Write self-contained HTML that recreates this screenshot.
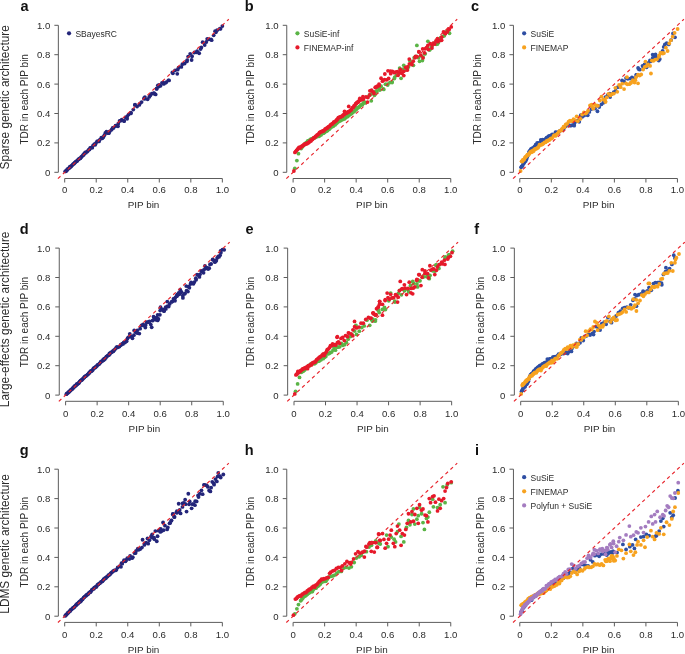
<!DOCTYPE html>
<html><head><meta charset="utf-8"><style>
html,body{margin:0;padding:0;background:#fff;}
svg{display:block;font-family:"Liberation Sans", sans-serif;will-change:transform;}
</style></head><body>
<svg width="685" height="654" viewBox="0 0 685 654">
<rect width="685" height="654" fill="#fff"/>
<text x="28.6" y="11" font-size="14.5" font-weight="bold" text-anchor="end" fill="#111">a</text>
<path d="M54.35 25.3H58.35V172.3H54.35M54.35 142.9H58.35M54.35 113.5H58.35M54.35 84.1H58.35M54.35 54.7H58.35M64.7 182.5V178.5H222.35V182.5M96.23 178.5V182.5M127.76 178.5V182.5M159.29 178.5V182.5M190.82 178.5V182.5" stroke="#5c5c5c" stroke-width="1" fill="none"/>
<text x="50.25" y="175.8" font-size="9.6" text-anchor="end" fill="#2b2b2b">0</text>
<text x="64.7" y="193.1" font-size="9.6" text-anchor="middle" fill="#2b2b2b">0</text>
<text x="50.25" y="146.4" font-size="9.6" text-anchor="end" fill="#2b2b2b">0.2</text>
<text x="96.23" y="193.1" font-size="9.6" text-anchor="middle" fill="#2b2b2b">0.2</text>
<text x="50.25" y="117" font-size="9.6" text-anchor="end" fill="#2b2b2b">0.4</text>
<text x="127.76" y="193.1" font-size="9.6" text-anchor="middle" fill="#2b2b2b">0.4</text>
<text x="50.25" y="87.6" font-size="9.6" text-anchor="end" fill="#2b2b2b">0.6</text>
<text x="159.29" y="193.1" font-size="9.6" text-anchor="middle" fill="#2b2b2b">0.6</text>
<text x="50.25" y="58.2" font-size="9.6" text-anchor="end" fill="#2b2b2b">0.8</text>
<text x="190.82" y="193.1" font-size="9.6" text-anchor="middle" fill="#2b2b2b">0.8</text>
<text x="50.25" y="28.8" font-size="9.6" text-anchor="end" fill="#2b2b2b">1.0</text>
<text x="222.35" y="193.1" font-size="9.6" text-anchor="middle" fill="#2b2b2b">1.0</text>
<text x="143.53" y="208" font-size="9.9" text-anchor="middle" fill="#2b2b2b">PIP bin</text>
<text transform="translate(27.7,99.3) rotate(-90)" x="0" y="0" font-size="10" text-anchor="middle" fill="#2b2b2b">TDR in each PIP bin</text>
<text transform="translate(9.1,97.3) rotate(-90)" x="0" y="0" font-size="11.85" text-anchor="middle" fill="#2b2b2b">Sparse genetic architecture</text>
<circle cx="65.16" cy="171.41" r="1.9" fill="#23257a"/><circle cx="65.78" cy="171.27" r="1.9" fill="#23257a"/><circle cx="66.46" cy="170.74" r="1.9" fill="#23257a"/><circle cx="67.17" cy="169.9" r="1.9" fill="#23257a"/><circle cx="67.43" cy="169.09" r="1.9" fill="#23257a"/><circle cx="68.18" cy="168.81" r="1.9" fill="#23257a"/><circle cx="68.94" cy="168.11" r="1.9" fill="#23257a"/><circle cx="69.53" cy="167.75" r="1.9" fill="#23257a"/><circle cx="69.91" cy="166.75" r="1.9" fill="#23257a"/><circle cx="70.45" cy="166.74" r="1.9" fill="#23257a"/><circle cx="71.08" cy="166.5" r="1.9" fill="#23257a"/><circle cx="71.89" cy="165.53" r="1.9" fill="#23257a"/><circle cx="72.47" cy="164.84" r="1.9" fill="#23257a"/><circle cx="73.13" cy="164.14" r="1.9" fill="#23257a"/><circle cx="73.91" cy="163.72" r="1.9" fill="#23257a"/><circle cx="74.49" cy="162.9" r="1.9" fill="#23257a"/><circle cx="75.17" cy="162.48" r="1.9" fill="#23257a"/><circle cx="75.78" cy="161.55" r="1.9" fill="#23257a"/><circle cx="76.88" cy="161.33" r="1.9" fill="#23257a"/><circle cx="77.29" cy="160.42" r="1.9" fill="#23257a"/><circle cx="78.4" cy="159.5" r="1.9" fill="#23257a"/><circle cx="78.83" cy="159.03" r="1.9" fill="#23257a"/><circle cx="79.76" cy="158.38" r="1.9" fill="#23257a"/><circle cx="80.38" cy="158.23" r="1.9" fill="#23257a"/><circle cx="81.35" cy="156.91" r="1.9" fill="#23257a"/><circle cx="82.02" cy="156.3" r="1.9" fill="#23257a"/><circle cx="82.95" cy="155.07" r="1.9" fill="#23257a"/><circle cx="83.61" cy="154.91" r="1.9" fill="#23257a"/><circle cx="84.17" cy="153.77" r="1.9" fill="#23257a"/><circle cx="85.17" cy="152.35" r="1.9" fill="#23257a"/><circle cx="85.9" cy="152.81" r="1.9" fill="#23257a"/><circle cx="86.99" cy="151.63" r="1.9" fill="#23257a"/><circle cx="87.71" cy="151.09" r="1.9" fill="#23257a"/><circle cx="88.77" cy="149.64" r="1.9" fill="#23257a"/><circle cx="89.54" cy="149.39" r="1.9" fill="#23257a"/><circle cx="90.21" cy="147.85" r="1.9" fill="#23257a"/><circle cx="91.12" cy="147.68" r="1.9" fill="#23257a"/><circle cx="92.31" cy="147.7" r="1.9" fill="#23257a"/><circle cx="93.15" cy="145.31" r="1.9" fill="#23257a"/><circle cx="94.38" cy="144.19" r="1.9" fill="#23257a"/><circle cx="95.25" cy="144.73" r="1.9" fill="#23257a"/><circle cx="95.97" cy="143.12" r="1.9" fill="#23257a"/><circle cx="97.09" cy="141.33" r="1.9" fill="#23257a"/><circle cx="98.07" cy="141.25" r="1.9" fill="#23257a"/><circle cx="99" cy="141.39" r="1.9" fill="#23257a"/><circle cx="99.91" cy="139.58" r="1.9" fill="#23257a"/><circle cx="101.33" cy="137.72" r="1.9" fill="#23257a"/><circle cx="102.37" cy="138.32" r="1.9" fill="#23257a"/><circle cx="103.48" cy="137" r="1.9" fill="#23257a"/><circle cx="104.39" cy="135.19" r="1.9" fill="#23257a"/><circle cx="105.36" cy="132.92" r="1.9" fill="#23257a"/><circle cx="106.69" cy="132.82" r="1.9" fill="#23257a"/><circle cx="108.26" cy="133.13" r="1.9" fill="#23257a"/><circle cx="109.76" cy="131.28" r="1.9" fill="#23257a"/><circle cx="111.61" cy="129.7" r="1.9" fill="#23257a"/><circle cx="113.54" cy="127.9" r="1.9" fill="#23257a"/><circle cx="115.52" cy="126.02" r="1.9" fill="#23257a"/><circle cx="118.23" cy="123.7" r="1.9" fill="#23257a"/><circle cx="121.08" cy="120.58" r="1.9" fill="#23257a"/><circle cx="124.1" cy="121.04" r="1.9" fill="#23257a"/><circle cx="127.22" cy="116.45" r="1.9" fill="#23257a"/><circle cx="130.91" cy="113.43" r="1.9" fill="#23257a"/><circle cx="135.08" cy="104.75" r="1.9" fill="#23257a"/><circle cx="139.89" cy="103.53" r="1.9" fill="#23257a"/><circle cx="144.55" cy="98.97" r="1.9" fill="#23257a"/><circle cx="149.26" cy="96.91" r="1.9" fill="#23257a"/><circle cx="154.03" cy="93.25" r="1.9" fill="#23257a"/><circle cx="158.82" cy="86.53" r="1.9" fill="#23257a"/><circle cx="163.75" cy="83.92" r="1.9" fill="#23257a"/><circle cx="168.37" cy="80.35" r="1.9" fill="#23257a"/><circle cx="172.89" cy="73.37" r="1.9" fill="#23257a"/><circle cx="177.69" cy="69.66" r="1.9" fill="#23257a"/><circle cx="182.39" cy="64.13" r="1.9" fill="#23257a"/><circle cx="187.16" cy="60.06" r="1.9" fill="#23257a"/><circle cx="192.08" cy="56.24" r="1.9" fill="#23257a"/><circle cx="196.53" cy="52.24" r="1.9" fill="#23257a"/><circle cx="201.32" cy="47.38" r="1.9" fill="#23257a"/><circle cx="206.31" cy="41.98" r="1.9" fill="#23257a"/><circle cx="211.03" cy="39.29" r="1.9" fill="#23257a"/><circle cx="215.9" cy="32.24" r="1.9" fill="#23257a"/><circle cx="220.55" cy="28.84" r="1.9" fill="#23257a"/><circle cx="106.48" cy="131.73" r="1.9" fill="#23257a"/><circle cx="108.84" cy="133.2" r="1.9" fill="#23257a"/><circle cx="112.63" cy="127.91" r="1.9" fill="#23257a"/><circle cx="115.62" cy="125.7" r="1.9" fill="#23257a"/><circle cx="117.99" cy="126.29" r="1.9" fill="#23257a"/><circle cx="119.56" cy="121" r="1.9" fill="#23257a"/><circle cx="121.77" cy="119.53" r="1.9" fill="#23257a"/><circle cx="124.13" cy="121" r="1.9" fill="#23257a"/><circle cx="125.55" cy="117.32" r="1.9" fill="#23257a"/><circle cx="127.13" cy="118.79" r="1.9" fill="#23257a"/><circle cx="128.55" cy="114.53" r="1.9" fill="#23257a"/><circle cx="130.91" cy="112.62" r="1.9" fill="#23257a"/><circle cx="133.28" cy="109.53" r="1.9" fill="#23257a"/><circle cx="134.85" cy="104.97" r="1.9" fill="#23257a"/><circle cx="137.06" cy="106.59" r="1.9" fill="#23257a"/><circle cx="139.27" cy="104.97" r="1.9" fill="#23257a"/><circle cx="141.63" cy="102.03" r="1.9" fill="#23257a"/><circle cx="144" cy="98.21" r="1.9" fill="#23257a"/><circle cx="144.94" cy="97.04" r="1.9" fill="#23257a"/><circle cx="147.62" cy="99.24" r="1.9" fill="#23257a"/><circle cx="150.3" cy="95.42" r="1.9" fill="#23257a"/><circle cx="151.72" cy="93.66" r="1.9" fill="#23257a"/><circle cx="153.46" cy="93.36" r="1.9" fill="#23257a"/><circle cx="155.66" cy="94.39" r="1.9" fill="#23257a"/><circle cx="156.77" cy="88.51" r="1.9" fill="#23257a"/><circle cx="157.87" cy="85.28" r="1.9" fill="#23257a"/><circle cx="160.55" cy="85.86" r="1.9" fill="#23257a"/><circle cx="163.23" cy="82.63" r="1.9" fill="#23257a"/><circle cx="166.38" cy="82.04" r="1.9" fill="#23257a"/><circle cx="169.06" cy="80.43" r="1.9" fill="#23257a"/><circle cx="172.37" cy="72.49" r="1.9" fill="#23257a"/><circle cx="175.06" cy="70.28" r="1.9" fill="#23257a"/><circle cx="177.26" cy="73.81" r="1.9" fill="#23257a"/><circle cx="178.52" cy="67.64" r="1.9" fill="#23257a"/><circle cx="181.36" cy="66.9" r="1.9" fill="#23257a"/><circle cx="184.67" cy="63.52" r="1.9" fill="#23257a"/><circle cx="186.88" cy="61.46" r="1.9" fill="#23257a"/><circle cx="188.14" cy="56.61" r="1.9" fill="#23257a"/><circle cx="190.19" cy="53.82" r="1.9" fill="#23257a"/><circle cx="191.61" cy="59.99" r="1.9" fill="#23257a"/><circle cx="194.45" cy="52.5" r="1.9" fill="#23257a"/><circle cx="197.13" cy="51.17" r="1.9" fill="#23257a"/><circle cx="199.18" cy="53.23" r="1.9" fill="#23257a"/><circle cx="200.59" cy="49.11" r="1.9" fill="#23257a"/><circle cx="202.64" cy="42.21" r="1.9" fill="#23257a"/><circle cx="204.69" cy="45" r="1.9" fill="#23257a"/><circle cx="207.22" cy="38.82" r="1.9" fill="#23257a"/><circle cx="208.79" cy="39.41" r="1.9" fill="#23257a"/><circle cx="211.63" cy="40.15" r="1.9" fill="#23257a"/><circle cx="213.68" cy="35.3" r="1.9" fill="#23257a"/><circle cx="215.1" cy="31.18" r="1.9" fill="#23257a"/><circle cx="217.15" cy="30.15" r="1.9" fill="#23257a"/><circle cx="219.83" cy="28.68" r="1.9" fill="#23257a"/><circle cx="222.35" cy="26.04" r="1.9" fill="#23257a"/><circle cx="161.97" cy="82.78" r="1.9" fill="#23257a"/><circle cx="165.6" cy="82.78" r="1.9" fill="#23257a"/><circle cx="154.4" cy="93.66" r="1.9" fill="#23257a"/><circle cx="156.61" cy="88.95" r="1.9" fill="#23257a"/><circle cx="159.29" cy="84.84" r="1.9" fill="#23257a"/>
<line x1="57.92" y1="178.62" x2="228.81" y2="19.27" stroke="#e8242c" stroke-width="1.15" stroke-dasharray="3.5 3.3"/>
<circle cx="69.05" cy="33.3" r="2.1" fill="#23257a"/>
<text x="75.45" y="36.8" font-size="8.5" fill="#2b2b2b">SBayesRC</text>
<text x="253.6" y="11" font-size="14.5" font-weight="bold" text-anchor="end" fill="#111">b</text>
<path d="M282.75 25.3H286.75V172.3H282.75M282.75 142.9H286.75M282.75 113.5H286.75M282.75 84.1H286.75M282.75 54.7H286.75M293.1 182.5V178.5H450.75V182.5M324.63 178.5V182.5M356.16 178.5V182.5M387.69 178.5V182.5M419.22 178.5V182.5" stroke="#5c5c5c" stroke-width="1" fill="none"/>
<text x="278.65" y="175.8" font-size="9.6" text-anchor="end" fill="#2b2b2b">0</text>
<text x="293.1" y="193.1" font-size="9.6" text-anchor="middle" fill="#2b2b2b">0</text>
<text x="278.65" y="146.4" font-size="9.6" text-anchor="end" fill="#2b2b2b">0.2</text>
<text x="324.63" y="193.1" font-size="9.6" text-anchor="middle" fill="#2b2b2b">0.2</text>
<text x="278.65" y="117" font-size="9.6" text-anchor="end" fill="#2b2b2b">0.4</text>
<text x="356.16" y="193.1" font-size="9.6" text-anchor="middle" fill="#2b2b2b">0.4</text>
<text x="278.65" y="87.6" font-size="9.6" text-anchor="end" fill="#2b2b2b">0.6</text>
<text x="387.69" y="193.1" font-size="9.6" text-anchor="middle" fill="#2b2b2b">0.6</text>
<text x="278.65" y="58.2" font-size="9.6" text-anchor="end" fill="#2b2b2b">0.8</text>
<text x="419.22" y="193.1" font-size="9.6" text-anchor="middle" fill="#2b2b2b">0.8</text>
<text x="278.65" y="28.8" font-size="9.6" text-anchor="end" fill="#2b2b2b">1.0</text>
<text x="450.75" y="193.1" font-size="9.6" text-anchor="middle" fill="#2b2b2b">1.0</text>
<text x="371.93" y="208" font-size="9.9" text-anchor="middle" fill="#2b2b2b">PIP bin</text>
<text transform="translate(253.6,99.3) rotate(-90)" x="0" y="0" font-size="10" text-anchor="middle" fill="#2b2b2b">TDR in each PIP bin</text>
<circle cx="301.13" cy="148.55" r="1.9" fill="#5ab446"/><circle cx="301.8" cy="147.4" r="1.9" fill="#5ab446"/><circle cx="302.98" cy="146.12" r="1.9" fill="#5ab446"/><circle cx="303.76" cy="145.23" r="1.9" fill="#5ab446"/><circle cx="304.8" cy="144.09" r="1.9" fill="#5ab446"/><circle cx="305.6" cy="143.14" r="1.9" fill="#5ab446"/><circle cx="306.64" cy="142.39" r="1.9" fill="#5ab446"/><circle cx="307.76" cy="140.84" r="1.9" fill="#5ab446"/><circle cx="308.69" cy="140.98" r="1.9" fill="#5ab446"/><circle cx="309.42" cy="140.29" r="1.9" fill="#5ab446"/><circle cx="310.3" cy="139.42" r="1.9" fill="#5ab446"/><circle cx="311.33" cy="139.22" r="1.9" fill="#5ab446"/><circle cx="312.3" cy="138.54" r="1.9" fill="#5ab446"/><circle cx="313.3" cy="138.58" r="1.9" fill="#5ab446"/><circle cx="314.14" cy="137.67" r="1.9" fill="#5ab446"/><circle cx="315.06" cy="137.49" r="1.9" fill="#5ab446"/><circle cx="316.12" cy="136.68" r="1.9" fill="#5ab446"/><circle cx="316.96" cy="136.72" r="1.9" fill="#5ab446"/><circle cx="318.13" cy="136.18" r="1.9" fill="#5ab446"/><circle cx="319.08" cy="136.37" r="1.9" fill="#5ab446"/><circle cx="319.98" cy="135.26" r="1.9" fill="#5ab446"/><circle cx="321" cy="134.97" r="1.9" fill="#5ab446"/><circle cx="321.94" cy="133.82" r="1.9" fill="#5ab446"/><circle cx="322.81" cy="133.04" r="1.9" fill="#5ab446"/><circle cx="323.67" cy="133.17" r="1.9" fill="#5ab446"/><circle cx="324.76" cy="132.27" r="1.9" fill="#5ab446"/><circle cx="325.58" cy="131.39" r="1.9" fill="#5ab446"/><circle cx="326.64" cy="131.09" r="1.9" fill="#5ab446"/><circle cx="327.59" cy="130.54" r="1.9" fill="#5ab446"/><circle cx="328.55" cy="129.4" r="1.9" fill="#5ab446"/><circle cx="329.43" cy="129.03" r="1.9" fill="#5ab446"/><circle cx="330.25" cy="128.12" r="1.9" fill="#5ab446"/><circle cx="331.31" cy="127.14" r="1.9" fill="#5ab446"/><circle cx="332.12" cy="126.18" r="1.9" fill="#5ab446"/><circle cx="333.27" cy="126.26" r="1.9" fill="#5ab446"/><circle cx="334.15" cy="124.57" r="1.9" fill="#5ab446"/><circle cx="335.04" cy="124.95" r="1.9" fill="#5ab446"/><circle cx="336.01" cy="123.84" r="1.9" fill="#5ab446"/><circle cx="336.87" cy="123" r="1.9" fill="#5ab446"/><circle cx="338.01" cy="122.06" r="1.9" fill="#5ab446"/><circle cx="338.86" cy="121.22" r="1.9" fill="#5ab446"/><circle cx="339.84" cy="120.88" r="1.9" fill="#5ab446"/><circle cx="340.84" cy="120.4" r="1.9" fill="#5ab446"/><circle cx="341.52" cy="119.57" r="1.9" fill="#5ab446"/><circle cx="342.65" cy="119.5" r="1.9" fill="#5ab446"/><circle cx="343.67" cy="118.71" r="1.9" fill="#5ab446"/><circle cx="344.37" cy="118.94" r="1.9" fill="#5ab446"/><circle cx="345.36" cy="117.88" r="1.9" fill="#5ab446"/><circle cx="346.29" cy="116.91" r="1.9" fill="#5ab446"/><circle cx="347.4" cy="116.69" r="1.9" fill="#5ab446"/><circle cx="348.13" cy="115.93" r="1.9" fill="#5ab446"/><circle cx="349.28" cy="115.02" r="1.9" fill="#5ab446"/><circle cx="350.04" cy="114.43" r="1.9" fill="#5ab446"/><circle cx="351.19" cy="113.85" r="1.9" fill="#5ab446"/><circle cx="351.91" cy="113.19" r="1.9" fill="#5ab446"/><circle cx="352.9" cy="111.93" r="1.9" fill="#5ab446"/><circle cx="353.85" cy="111.66" r="1.9" fill="#5ab446"/><circle cx="354.75" cy="110.92" r="1.9" fill="#5ab446"/><circle cx="356" cy="109.7" r="1.9" fill="#5ab446"/><circle cx="356.74" cy="108.77" r="1.9" fill="#5ab446"/><circle cx="357.77" cy="107.94" r="1.9" fill="#5ab446"/><circle cx="358.63" cy="107.21" r="1.9" fill="#5ab446"/><circle cx="359.48" cy="106.75" r="1.9" fill="#5ab446"/><circle cx="360.65" cy="105.33" r="1.9" fill="#5ab446"/><circle cx="361.65" cy="104.67" r="1.9" fill="#5ab446"/><circle cx="362.53" cy="104.49" r="1.9" fill="#5ab446"/><circle cx="363.4" cy="103.05" r="1.9" fill="#5ab446"/><circle cx="364.3" cy="101.9" r="1.9" fill="#5ab446"/><circle cx="365.18" cy="102.9" r="1.9" fill="#5ab446"/><circle cx="367.83" cy="97.07" r="1.9" fill="#5ab446"/><circle cx="370.03" cy="94.8" r="1.9" fill="#5ab446"/><circle cx="372.24" cy="93.29" r="1.9" fill="#5ab446"/><circle cx="374.45" cy="95.3" r="1.9" fill="#5ab446"/><circle cx="376.65" cy="90.95" r="1.9" fill="#5ab446"/><circle cx="378.86" cy="88.28" r="1.9" fill="#5ab446"/><circle cx="381.07" cy="86.24" r="1.9" fill="#5ab446"/><circle cx="383.28" cy="88.87" r="1.9" fill="#5ab446"/><circle cx="385.48" cy="84.19" r="1.9" fill="#5ab446"/><circle cx="387.69" cy="85.02" r="1.9" fill="#5ab446"/><circle cx="389.9" cy="82.61" r="1.9" fill="#5ab446"/><circle cx="392.1" cy="81.85" r="1.9" fill="#5ab446"/><circle cx="394.31" cy="78.5" r="1.9" fill="#5ab446"/><circle cx="396.52" cy="75.16" r="1.9" fill="#5ab446"/><circle cx="398.73" cy="73.02" r="1.9" fill="#5ab446"/><circle cx="400.93" cy="71.37" r="1.9" fill="#5ab446"/><circle cx="403.14" cy="69.27" r="1.9" fill="#5ab446"/><circle cx="405.35" cy="69.97" r="1.9" fill="#5ab446"/><circle cx="407.55" cy="68.8" r="1.9" fill="#5ab446"/><circle cx="409.76" cy="60.39" r="1.9" fill="#5ab446"/><circle cx="411.97" cy="62.35" r="1.9" fill="#5ab446"/><circle cx="414.18" cy="57.65" r="1.9" fill="#5ab446"/><circle cx="416.38" cy="56.4" r="1.9" fill="#5ab446"/><circle cx="418.59" cy="57.83" r="1.9" fill="#5ab446"/><circle cx="420.8" cy="55.78" r="1.9" fill="#5ab446"/><circle cx="423" cy="57.19" r="1.9" fill="#5ab446"/><circle cx="425.21" cy="53.83" r="1.9" fill="#5ab446"/><circle cx="427.42" cy="48.11" r="1.9" fill="#5ab446"/><circle cx="429.62" cy="50.06" r="1.9" fill="#5ab446"/><circle cx="431.83" cy="46.14" r="1.9" fill="#5ab446"/><circle cx="434.04" cy="43.11" r="1.9" fill="#5ab446"/><circle cx="436.25" cy="44.36" r="1.9" fill="#5ab446"/><circle cx="438.45" cy="42.45" r="1.9" fill="#5ab446"/><circle cx="440.66" cy="37.69" r="1.9" fill="#5ab446"/><circle cx="442.87" cy="36.35" r="1.9" fill="#5ab446"/><circle cx="445.07" cy="32.16" r="1.9" fill="#5ab446"/><circle cx="447.28" cy="31.35" r="1.9" fill="#5ab446"/><circle cx="449.49" cy="33.27" r="1.9" fill="#5ab446"/><circle cx="294.83" cy="168.33" r="1.9" fill="#5ab446"/><circle cx="296.88" cy="160.54" r="1.9" fill="#5ab446"/><circle cx="298.46" cy="153.63" r="1.9" fill="#5ab446"/><circle cx="355.21" cy="107.33" r="1.9" fill="#5ab446"/><circle cx="369.4" cy="95.13" r="1.9" fill="#5ab446"/><circle cx="371.29" cy="100.86" r="1.9" fill="#5ab446"/><circle cx="375.87" cy="91.6" r="1.9" fill="#5ab446"/><circle cx="374.13" cy="92.19" r="1.9" fill="#5ab446"/><circle cx="376.81" cy="92.04" r="1.9" fill="#5ab446"/><circle cx="383.75" cy="89.39" r="1.9" fill="#5ab446"/><circle cx="392.1" cy="82.48" r="1.9" fill="#5ab446"/><circle cx="394.78" cy="77.04" r="1.9" fill="#5ab446"/><circle cx="401.09" cy="78.37" r="1.9" fill="#5ab446"/><circle cx="399.67" cy="68.08" r="1.9" fill="#5ab446"/><circle cx="403.77" cy="65.28" r="1.9" fill="#5ab446"/><circle cx="408.5" cy="66.75" r="1.9" fill="#5ab446"/><circle cx="413.39" cy="65.28" r="1.9" fill="#5ab446"/><circle cx="416.86" cy="45.44" r="1.9" fill="#5ab446"/><circle cx="419.54" cy="61.32" r="1.9" fill="#5ab446"/><circle cx="422.37" cy="60.58" r="1.9" fill="#5ab446"/><circle cx="424.42" cy="53.67" r="1.9" fill="#5ab446"/><circle cx="427.89" cy="41.32" r="1.9" fill="#5ab446"/><circle cx="430.57" cy="48.82" r="1.9" fill="#5ab446"/><circle cx="437.51" cy="44.12" r="1.9" fill="#5ab446"/><circle cx="444.29" cy="35.74" r="1.9" fill="#5ab446"/><circle cx="447.12" cy="31.77" r="1.9" fill="#5ab446"/><circle cx="387.69" cy="84.1" r="1.9" fill="#5ab446"/><circle cx="379.81" cy="89.98" r="1.9" fill="#5ab446"/><circle cx="294.91" cy="152.43" r="1.9" fill="#e6192a"/><circle cx="295.81" cy="151.33" r="1.9" fill="#e6192a"/><circle cx="296.61" cy="150.3" r="1.9" fill="#e6192a"/><circle cx="297.46" cy="149.42" r="1.9" fill="#e6192a"/><circle cx="298.07" cy="148.67" r="1.9" fill="#e6192a"/><circle cx="298.92" cy="147.28" r="1.9" fill="#e6192a"/><circle cx="299.83" cy="148.14" r="1.9" fill="#e6192a"/><circle cx="300.4" cy="147.14" r="1.9" fill="#e6192a"/><circle cx="301.34" cy="146.44" r="1.9" fill="#e6192a"/><circle cx="302.16" cy="146.47" r="1.9" fill="#e6192a"/><circle cx="302.93" cy="145.29" r="1.9" fill="#e6192a"/><circle cx="303.69" cy="145.09" r="1.9" fill="#e6192a"/><circle cx="304.39" cy="144.25" r="1.9" fill="#e6192a"/><circle cx="305.23" cy="144.26" r="1.9" fill="#e6192a"/><circle cx="306.1" cy="143.56" r="1.9" fill="#e6192a"/><circle cx="306.95" cy="143.75" r="1.9" fill="#e6192a"/><circle cx="307.57" cy="142.86" r="1.9" fill="#e6192a"/><circle cx="308.53" cy="142.79" r="1.9" fill="#e6192a"/><circle cx="309.3" cy="141.89" r="1.9" fill="#e6192a"/><circle cx="309.88" cy="141.25" r="1.9" fill="#e6192a"/><circle cx="310.9" cy="141.05" r="1.9" fill="#e6192a"/><circle cx="311.48" cy="139.84" r="1.9" fill="#e6192a"/><circle cx="312.34" cy="139.53" r="1.9" fill="#e6192a"/><circle cx="313.15" cy="138.48" r="1.9" fill="#e6192a"/><circle cx="313.94" cy="137.65" r="1.9" fill="#e6192a"/><circle cx="314.83" cy="137.62" r="1.9" fill="#e6192a"/><circle cx="315.6" cy="136.29" r="1.9" fill="#e6192a"/><circle cx="316.17" cy="136.11" r="1.9" fill="#e6192a"/><circle cx="317.18" cy="134.79" r="1.9" fill="#e6192a"/><circle cx="317.87" cy="134.85" r="1.9" fill="#e6192a"/><circle cx="318.71" cy="133.87" r="1.9" fill="#e6192a"/><circle cx="319.45" cy="132.76" r="1.9" fill="#e6192a"/><circle cx="320.15" cy="132.07" r="1.9" fill="#e6192a"/><circle cx="321.16" cy="131.81" r="1.9" fill="#e6192a"/><circle cx="321.66" cy="131.47" r="1.9" fill="#e6192a"/><circle cx="322.47" cy="131.38" r="1.9" fill="#e6192a"/><circle cx="323.3" cy="130.55" r="1.9" fill="#e6192a"/><circle cx="324.01" cy="130.75" r="1.9" fill="#e6192a"/><circle cx="324.98" cy="129.18" r="1.9" fill="#e6192a"/><circle cx="325.68" cy="128.95" r="1.9" fill="#e6192a"/><circle cx="326.64" cy="128.18" r="1.9" fill="#e6192a"/><circle cx="327.47" cy="128.02" r="1.9" fill="#e6192a"/><circle cx="328.04" cy="127.08" r="1.9" fill="#e6192a"/><circle cx="328.74" cy="126.54" r="1.9" fill="#e6192a"/><circle cx="329.58" cy="126.33" r="1.9" fill="#e6192a"/><circle cx="330.35" cy="125.04" r="1.9" fill="#e6192a"/><circle cx="331.11" cy="124.35" r="1.9" fill="#e6192a"/><circle cx="332.18" cy="123.98" r="1.9" fill="#e6192a"/><circle cx="332.95" cy="123.35" r="1.9" fill="#e6192a"/><circle cx="333.62" cy="122.21" r="1.9" fill="#e6192a"/><circle cx="334.45" cy="122.07" r="1.9" fill="#e6192a"/><circle cx="335.23" cy="121.3" r="1.9" fill="#e6192a"/><circle cx="336.12" cy="120.72" r="1.9" fill="#e6192a"/><circle cx="336.84" cy="119.73" r="1.9" fill="#e6192a"/><circle cx="337.47" cy="119.27" r="1.9" fill="#e6192a"/><circle cx="338.35" cy="117.55" r="1.9" fill="#e6192a"/><circle cx="339.15" cy="117.36" r="1.9" fill="#e6192a"/><circle cx="339.95" cy="117.15" r="1.9" fill="#e6192a"/><circle cx="340.56" cy="117" r="1.9" fill="#e6192a"/><circle cx="341.36" cy="116.47" r="1.9" fill="#e6192a"/><circle cx="342.33" cy="116.14" r="1.9" fill="#e6192a"/><circle cx="343.03" cy="115.09" r="1.9" fill="#e6192a"/><circle cx="343.93" cy="114.67" r="1.9" fill="#e6192a"/><circle cx="344.51" cy="114.21" r="1.9" fill="#e6192a"/><circle cx="345.5" cy="113.4" r="1.9" fill="#e6192a"/><circle cx="346.21" cy="113.17" r="1.9" fill="#e6192a"/><circle cx="347.05" cy="112.78" r="1.9" fill="#e6192a"/><circle cx="347.75" cy="111.95" r="1.9" fill="#e6192a"/><circle cx="348.55" cy="111.95" r="1.9" fill="#e6192a"/><circle cx="349.34" cy="111.43" r="1.9" fill="#e6192a"/><circle cx="350.26" cy="110.46" r="1.9" fill="#e6192a"/><circle cx="351.03" cy="110.09" r="1.9" fill="#e6192a"/><circle cx="351.69" cy="109.05" r="1.9" fill="#e6192a"/><circle cx="352.45" cy="107.6" r="1.9" fill="#e6192a"/><circle cx="353.22" cy="107.53" r="1.9" fill="#e6192a"/><circle cx="353.99" cy="105.92" r="1.9" fill="#e6192a"/><circle cx="354.84" cy="105.37" r="1.9" fill="#e6192a"/><circle cx="355.67" cy="103.74" r="1.9" fill="#e6192a"/><circle cx="356.59" cy="103.33" r="1.9" fill="#e6192a"/><circle cx="357.31" cy="102.47" r="1.9" fill="#e6192a"/><circle cx="358.17" cy="102.14" r="1.9" fill="#e6192a"/><circle cx="358.72" cy="101.12" r="1.9" fill="#e6192a"/><circle cx="359.64" cy="100.23" r="1.9" fill="#e6192a"/><circle cx="360.52" cy="99.56" r="1.9" fill="#e6192a"/><circle cx="361.11" cy="99.88" r="1.9" fill="#e6192a"/><circle cx="362.04" cy="98.98" r="1.9" fill="#e6192a"/><circle cx="362.88" cy="99.32" r="1.9" fill="#e6192a"/><circle cx="363.5" cy="98.84" r="1.9" fill="#e6192a"/><circle cx="365.93" cy="96.88" r="1.9" fill="#e6192a"/><circle cx="367.83" cy="97.49" r="1.9" fill="#e6192a"/><circle cx="369.72" cy="94.92" r="1.9" fill="#e6192a"/><circle cx="371.61" cy="90.27" r="1.9" fill="#e6192a"/><circle cx="373.5" cy="92.14" r="1.9" fill="#e6192a"/><circle cx="375.39" cy="87.59" r="1.9" fill="#e6192a"/><circle cx="377.29" cy="86.04" r="1.9" fill="#e6192a"/><circle cx="379.18" cy="85.66" r="1.9" fill="#e6192a"/><circle cx="381.07" cy="78.24" r="1.9" fill="#e6192a"/><circle cx="382.96" cy="80.33" r="1.9" fill="#e6192a"/><circle cx="384.85" cy="73.99" r="1.9" fill="#e6192a"/><circle cx="386.74" cy="79.83" r="1.9" fill="#e6192a"/><circle cx="388.64" cy="78.5" r="1.9" fill="#e6192a"/><circle cx="390.53" cy="71.27" r="1.9" fill="#e6192a"/><circle cx="392.42" cy="71.35" r="1.9" fill="#e6192a"/><circle cx="394.31" cy="72.67" r="1.9" fill="#e6192a"/><circle cx="396.2" cy="71.91" r="1.9" fill="#e6192a"/><circle cx="398.09" cy="75.27" r="1.9" fill="#e6192a"/><circle cx="399.99" cy="72.81" r="1.9" fill="#e6192a"/><circle cx="401.88" cy="73.26" r="1.9" fill="#e6192a"/><circle cx="403.77" cy="71.33" r="1.9" fill="#e6192a"/><circle cx="405.66" cy="67.36" r="1.9" fill="#e6192a"/><circle cx="407.55" cy="66.98" r="1.9" fill="#e6192a"/><circle cx="409.45" cy="63.79" r="1.9" fill="#e6192a"/><circle cx="411.34" cy="63.87" r="1.9" fill="#e6192a"/><circle cx="413.23" cy="61.13" r="1.9" fill="#e6192a"/><circle cx="415.12" cy="57.71" r="1.9" fill="#e6192a"/><circle cx="417.01" cy="56.66" r="1.9" fill="#e6192a"/><circle cx="418.9" cy="52.01" r="1.9" fill="#e6192a"/><circle cx="420.8" cy="55.17" r="1.9" fill="#e6192a"/><circle cx="422.69" cy="48.95" r="1.9" fill="#e6192a"/><circle cx="424.58" cy="52.97" r="1.9" fill="#e6192a"/><circle cx="426.47" cy="47.56" r="1.9" fill="#e6192a"/><circle cx="428.36" cy="49.6" r="1.9" fill="#e6192a"/><circle cx="430.26" cy="43.59" r="1.9" fill="#e6192a"/><circle cx="432.15" cy="45.1" r="1.9" fill="#e6192a"/><circle cx="434.04" cy="43.2" r="1.9" fill="#e6192a"/><circle cx="435.93" cy="40.87" r="1.9" fill="#e6192a"/><circle cx="437.82" cy="41.68" r="1.9" fill="#e6192a"/><circle cx="439.71" cy="40.43" r="1.9" fill="#e6192a"/><circle cx="441.61" cy="40.28" r="1.9" fill="#e6192a"/><circle cx="443.5" cy="32" r="1.9" fill="#e6192a"/><circle cx="445.39" cy="33.69" r="1.9" fill="#e6192a"/><circle cx="447.28" cy="31.95" r="1.9" fill="#e6192a"/><circle cx="449.17" cy="29.52" r="1.9" fill="#e6192a"/><circle cx="293.89" cy="170.98" r="1.9" fill="#e6192a"/><circle cx="344.49" cy="111.44" r="1.9" fill="#e6192a"/><circle cx="348.75" cy="106.44" r="1.9" fill="#e6192a"/><circle cx="357.11" cy="102.33" r="1.9" fill="#e6192a"/><circle cx="359.79" cy="98.51" r="1.9" fill="#e6192a"/><circle cx="362.94" cy="96.6" r="1.9" fill="#e6192a"/><circle cx="367.51" cy="102.03" r="1.9" fill="#e6192a"/><circle cx="369.88" cy="90.86" r="1.9" fill="#e6192a"/><circle cx="373.97" cy="93.51" r="1.9" fill="#e6192a"/><circle cx="371.45" cy="90.86" r="1.9" fill="#e6192a"/><circle cx="375.39" cy="87.19" r="1.9" fill="#e6192a"/><circle cx="376.97" cy="86.75" r="1.9" fill="#e6192a"/><circle cx="382.49" cy="81.16" r="1.9" fill="#e6192a"/><circle cx="388.01" cy="70.87" r="1.9" fill="#e6192a"/><circle cx="390.69" cy="73.66" r="1.9" fill="#e6192a"/><circle cx="397.46" cy="71.61" r="1.9" fill="#e6192a"/><circle cx="403.77" cy="75.57" r="1.9" fill="#e6192a"/><circle cx="407.24" cy="70.14" r="1.9" fill="#e6192a"/><circle cx="409.29" cy="59.11" r="1.9" fill="#e6192a"/><circle cx="411.97" cy="64.7" r="1.9" fill="#e6192a"/><circle cx="415.44" cy="56.46" r="1.9" fill="#e6192a"/><circle cx="418.9" cy="51.61" r="1.9" fill="#e6192a"/><circle cx="423" cy="57.93" r="1.9" fill="#e6192a"/><circle cx="425.05" cy="48.82" r="1.9" fill="#e6192a"/><circle cx="427.89" cy="45.44" r="1.9" fill="#e6192a"/><circle cx="431.99" cy="48.09" r="1.9" fill="#e6192a"/><circle cx="434.67" cy="44.12" r="1.9" fill="#e6192a"/><circle cx="437.51" cy="38.53" r="1.9" fill="#e6192a"/><circle cx="441.61" cy="37.21" r="1.9" fill="#e6192a"/><circle cx="445.07" cy="33.09" r="1.9" fill="#e6192a"/><circle cx="448.54" cy="28.98" r="1.9" fill="#e6192a"/><circle cx="451.22" cy="26.92" r="1.9" fill="#e6192a"/><circle cx="394" cy="72.34" r="1.9" fill="#e6192a"/><circle cx="384.54" cy="79.69" r="1.9" fill="#e6192a"/><circle cx="379.02" cy="84.1" r="1.9" fill="#e6192a"/><circle cx="400.3" cy="69.4" r="1.9" fill="#e6192a"/>
<line x1="286.32" y1="178.62" x2="457.21" y2="19.27" stroke="#e8242c" stroke-width="1.15" stroke-dasharray="3.5 3.3"/>
<circle cx="297.45" cy="33.3" r="2.1" fill="#5ab446"/>
<text x="303.85" y="36.8" font-size="8.5" fill="#2b2b2b">SuSiE-inf</text>
<circle cx="297.45" cy="47.4" r="2.1" fill="#e6192a"/>
<text x="303.85" y="50.9" font-size="8.5" fill="#2b2b2b">FINEMAP-inf</text>
<text x="479" y="11" font-size="14.5" font-weight="bold" text-anchor="end" fill="#111">c</text>
<path d="M509.45 25.3H513.45V172.3H509.45M509.45 142.9H513.45M509.45 113.5H513.45M509.45 84.1H513.45M509.45 54.7H513.45M519.8 182.5V178.5H677.45V182.5M551.33 178.5V182.5M582.86 178.5V182.5M614.39 178.5V182.5M645.92 178.5V182.5" stroke="#5c5c5c" stroke-width="1" fill="none"/>
<text x="505.35" y="175.8" font-size="9.6" text-anchor="end" fill="#2b2b2b">0</text>
<text x="519.8" y="193.1" font-size="9.6" text-anchor="middle" fill="#2b2b2b">0</text>
<text x="505.35" y="146.4" font-size="9.6" text-anchor="end" fill="#2b2b2b">0.2</text>
<text x="551.33" y="193.1" font-size="9.6" text-anchor="middle" fill="#2b2b2b">0.2</text>
<text x="505.35" y="117" font-size="9.6" text-anchor="end" fill="#2b2b2b">0.4</text>
<text x="582.86" y="193.1" font-size="9.6" text-anchor="middle" fill="#2b2b2b">0.4</text>
<text x="505.35" y="87.6" font-size="9.6" text-anchor="end" fill="#2b2b2b">0.6</text>
<text x="614.39" y="193.1" font-size="9.6" text-anchor="middle" fill="#2b2b2b">0.6</text>
<text x="505.35" y="58.2" font-size="9.6" text-anchor="end" fill="#2b2b2b">0.8</text>
<text x="645.92" y="193.1" font-size="9.6" text-anchor="middle" fill="#2b2b2b">0.8</text>
<text x="505.35" y="28.8" font-size="9.6" text-anchor="end" fill="#2b2b2b">1.0</text>
<text x="677.45" y="193.1" font-size="9.6" text-anchor="middle" fill="#2b2b2b">1.0</text>
<text x="598.62" y="208" font-size="9.9" text-anchor="middle" fill="#2b2b2b">PIP bin</text>
<text transform="translate(480.8,99.3) rotate(-90)" x="0" y="0" font-size="10" text-anchor="middle" fill="#2b2b2b">TDR in each PIP bin</text>
<circle cx="521.09" cy="167.29" r="1.9" fill="#2e4ea3"/><circle cx="521.63" cy="166.4" r="1.9" fill="#2e4ea3"/><circle cx="522.18" cy="166.36" r="1.9" fill="#2e4ea3"/><circle cx="523.12" cy="164.16" r="1.9" fill="#2e4ea3"/><circle cx="523.71" cy="163.62" r="1.9" fill="#2e4ea3"/><circle cx="524.1" cy="162.4" r="1.9" fill="#2e4ea3"/><circle cx="524.68" cy="161.83" r="1.9" fill="#2e4ea3"/><circle cx="525.68" cy="161.02" r="1.9" fill="#2e4ea3"/><circle cx="526.28" cy="159.39" r="1.9" fill="#2e4ea3"/><circle cx="526.64" cy="158.56" r="1.9" fill="#2e4ea3"/><circle cx="527.37" cy="156.52" r="1.9" fill="#2e4ea3"/><circle cx="528.31" cy="154.68" r="1.9" fill="#2e4ea3"/><circle cx="529.02" cy="151.88" r="1.9" fill="#2e4ea3"/><circle cx="529.64" cy="151.17" r="1.9" fill="#2e4ea3"/><circle cx="530.28" cy="150.33" r="1.9" fill="#2e4ea3"/><circle cx="530.82" cy="149.16" r="1.9" fill="#2e4ea3"/><circle cx="531.97" cy="148.28" r="1.9" fill="#2e4ea3"/><circle cx="532.43" cy="148.37" r="1.9" fill="#2e4ea3"/><circle cx="533.49" cy="148.08" r="1.9" fill="#2e4ea3"/><circle cx="534.25" cy="146.91" r="1.9" fill="#2e4ea3"/><circle cx="534.89" cy="146.29" r="1.9" fill="#2e4ea3"/><circle cx="535.67" cy="144.76" r="1.9" fill="#2e4ea3"/><circle cx="536.37" cy="144.74" r="1.9" fill="#2e4ea3"/><circle cx="537.16" cy="142.93" r="1.9" fill="#2e4ea3"/><circle cx="538.02" cy="143.43" r="1.9" fill="#2e4ea3"/><circle cx="539.13" cy="142.9" r="1.9" fill="#2e4ea3"/><circle cx="539.99" cy="143.02" r="1.9" fill="#2e4ea3"/><circle cx="540.76" cy="140.01" r="1.9" fill="#2e4ea3"/><circle cx="541.78" cy="140.71" r="1.9" fill="#2e4ea3"/><circle cx="542.66" cy="139.69" r="1.9" fill="#2e4ea3"/><circle cx="543.65" cy="139.88" r="1.9" fill="#2e4ea3"/><circle cx="544.71" cy="139.8" r="1.9" fill="#2e4ea3"/><circle cx="545.87" cy="138.61" r="1.9" fill="#2e4ea3"/><circle cx="546.55" cy="137.71" r="1.9" fill="#2e4ea3"/><circle cx="547.83" cy="137.19" r="1.9" fill="#2e4ea3"/><circle cx="548.66" cy="136.25" r="1.9" fill="#2e4ea3"/><circle cx="549.65" cy="135.9" r="1.9" fill="#2e4ea3"/><circle cx="550.97" cy="135.45" r="1.9" fill="#2e4ea3"/><circle cx="552.16" cy="134.3" r="1.9" fill="#2e4ea3"/><circle cx="553.31" cy="135.28" r="1.9" fill="#2e4ea3"/><circle cx="554" cy="134.87" r="1.9" fill="#2e4ea3"/><circle cx="555.52" cy="132.17" r="1.9" fill="#2e4ea3"/><circle cx="556.53" cy="132.36" r="1.9" fill="#2e4ea3"/><circle cx="557.93" cy="133.03" r="1.9" fill="#2e4ea3"/><circle cx="558.92" cy="131.76" r="1.9" fill="#2e4ea3"/><circle cx="560.1" cy="130.64" r="1.9" fill="#2e4ea3"/><circle cx="561.5" cy="130.1" r="1.9" fill="#2e4ea3"/><circle cx="562.63" cy="130.19" r="1.9" fill="#2e4ea3"/><circle cx="563.98" cy="128.2" r="1.9" fill="#2e4ea3"/><circle cx="565.49" cy="126.47" r="1.9" fill="#2e4ea3"/><circle cx="566.85" cy="124.58" r="1.9" fill="#2e4ea3"/><circle cx="568.32" cy="124.81" r="1.9" fill="#2e4ea3"/><circle cx="569.67" cy="125.68" r="1.9" fill="#2e4ea3"/><circle cx="571.12" cy="125.49" r="1.9" fill="#2e4ea3"/><circle cx="572.86" cy="125.05" r="1.9" fill="#2e4ea3"/><circle cx="574.31" cy="123.71" r="1.9" fill="#2e4ea3"/><circle cx="575.76" cy="121.72" r="1.9" fill="#2e4ea3"/><circle cx="577.48" cy="120.59" r="1.9" fill="#2e4ea3"/><circle cx="579.23" cy="121.82" r="1.9" fill="#2e4ea3"/><circle cx="580.74" cy="115.17" r="1.9" fill="#2e4ea3"/><circle cx="582.33" cy="116.75" r="1.9" fill="#2e4ea3"/><circle cx="584.14" cy="115.58" r="1.9" fill="#2e4ea3"/><circle cx="585.81" cy="113.12" r="1.9" fill="#2e4ea3"/><circle cx="587.73" cy="115.23" r="1.9" fill="#2e4ea3"/><circle cx="589.34" cy="111.93" r="1.9" fill="#2e4ea3"/><circle cx="591.29" cy="109.12" r="1.9" fill="#2e4ea3"/><circle cx="593.21" cy="108.47" r="1.9" fill="#2e4ea3"/><circle cx="595.07" cy="108.55" r="1.9" fill="#2e4ea3"/><circle cx="597.46" cy="111.25" r="1.9" fill="#2e4ea3"/><circle cx="599.24" cy="106.98" r="1.9" fill="#2e4ea3"/><circle cx="601.52" cy="104.31" r="1.9" fill="#2e4ea3"/><circle cx="603.5" cy="102.7" r="1.9" fill="#2e4ea3"/><circle cx="605.43" cy="97.07" r="1.9" fill="#2e4ea3"/><circle cx="607.66" cy="95.17" r="1.9" fill="#2e4ea3"/><circle cx="609.72" cy="93.65" r="1.9" fill="#2e4ea3"/><circle cx="611.65" cy="94.08" r="1.9" fill="#2e4ea3"/><circle cx="613.77" cy="92.23" r="1.9" fill="#2e4ea3"/><circle cx="615.69" cy="90.56" r="1.9" fill="#2e4ea3"/><circle cx="617.8" cy="87.15" r="1.9" fill="#2e4ea3"/><circle cx="619.98" cy="86.44" r="1.9" fill="#2e4ea3"/><circle cx="622.04" cy="80.46" r="1.9" fill="#2e4ea3"/><circle cx="624.09" cy="81.4" r="1.9" fill="#2e4ea3"/><circle cx="626.01" cy="78.1" r="1.9" fill="#2e4ea3"/><circle cx="627.8" cy="78.79" r="1.9" fill="#2e4ea3"/><circle cx="630.25" cy="78.6" r="1.9" fill="#2e4ea3"/><circle cx="631.92" cy="77.52" r="1.9" fill="#2e4ea3"/><circle cx="634.19" cy="78.18" r="1.9" fill="#2e4ea3"/><circle cx="636.37" cy="75.01" r="1.9" fill="#2e4ea3"/><circle cx="638.09" cy="67.99" r="1.9" fill="#2e4ea3"/><circle cx="640.04" cy="69.55" r="1.9" fill="#2e4ea3"/><circle cx="642.5" cy="65.83" r="1.9" fill="#2e4ea3"/><circle cx="644.5" cy="64.47" r="1.9" fill="#2e4ea3"/><circle cx="646.6" cy="67.36" r="1.9" fill="#2e4ea3"/><circle cx="648.33" cy="63.01" r="1.9" fill="#2e4ea3"/><circle cx="650.6" cy="61.4" r="1.9" fill="#2e4ea3"/><circle cx="652.7" cy="54.53" r="1.9" fill="#2e4ea3"/><circle cx="654.6" cy="56.79" r="1.9" fill="#2e4ea3"/><circle cx="656.45" cy="57.12" r="1.9" fill="#2e4ea3"/><circle cx="658.76" cy="60.49" r="1.9" fill="#2e4ea3"/><circle cx="660.82" cy="52.9" r="1.9" fill="#2e4ea3"/><circle cx="662.64" cy="50.78" r="1.9" fill="#2e4ea3"/><circle cx="664.88" cy="44.49" r="1.9" fill="#2e4ea3"/><circle cx="666.68" cy="43.09" r="1.9" fill="#2e4ea3"/><circle cx="668.77" cy="44.44" r="1.9" fill="#2e4ea3"/><circle cx="671.03" cy="40.13" r="1.9" fill="#2e4ea3"/><circle cx="672.97" cy="33.48" r="1.9" fill="#2e4ea3"/><circle cx="674.99" cy="37.29" r="1.9" fill="#2e4ea3"/><circle cx="574.19" cy="125.7" r="1.9" fill="#2e4ea3"/><circle cx="586.64" cy="114.68" r="1.9" fill="#2e4ea3"/><circle cx="597.68" cy="105.71" r="1.9" fill="#2e4ea3"/><circle cx="610.13" cy="97.04" r="1.9" fill="#2e4ea3"/><circle cx="636.3" cy="74.99" r="1.9" fill="#2e4ea3"/><circle cx="659.79" cy="59.11" r="1.9" fill="#2e4ea3"/><circle cx="650.02" cy="60.29" r="1.9" fill="#2e4ea3"/><circle cx="652.7" cy="57.93" r="1.9" fill="#2e4ea3"/><circle cx="655.54" cy="54.41" r="1.9" fill="#2e4ea3"/><circle cx="663.73" cy="46.91" r="1.9" fill="#2e4ea3"/><circle cx="638.98" cy="69.4" r="1.9" fill="#2e4ea3"/><circle cx="643.56" cy="67.2" r="1.9" fill="#2e4ea3"/><circle cx="521.59" cy="161.31" r="1.9" fill="#f7a21f"/><circle cx="522.25" cy="161.48" r="1.9" fill="#f7a21f"/><circle cx="522.66" cy="160.18" r="1.9" fill="#f7a21f"/><circle cx="523.05" cy="159.8" r="1.9" fill="#f7a21f"/><circle cx="523.81" cy="159.75" r="1.9" fill="#f7a21f"/><circle cx="523.96" cy="159.42" r="1.9" fill="#f7a21f"/><circle cx="524.67" cy="158.14" r="1.9" fill="#f7a21f"/><circle cx="525.28" cy="157.06" r="1.9" fill="#f7a21f"/><circle cx="525.59" cy="156.96" r="1.9" fill="#f7a21f"/><circle cx="526.59" cy="156.11" r="1.9" fill="#f7a21f"/><circle cx="527.11" cy="155.48" r="1.9" fill="#f7a21f"/><circle cx="527.41" cy="154.69" r="1.9" fill="#f7a21f"/><circle cx="528.25" cy="154.82" r="1.9" fill="#f7a21f"/><circle cx="528.99" cy="154.26" r="1.9" fill="#f7a21f"/><circle cx="529.3" cy="153.43" r="1.9" fill="#f7a21f"/><circle cx="530.26" cy="151.79" r="1.9" fill="#f7a21f"/><circle cx="530.64" cy="152.04" r="1.9" fill="#f7a21f"/><circle cx="531.48" cy="152.32" r="1.9" fill="#f7a21f"/><circle cx="531.94" cy="150.97" r="1.9" fill="#f7a21f"/><circle cx="532.98" cy="151.5" r="1.9" fill="#f7a21f"/><circle cx="533.65" cy="150.88" r="1.9" fill="#f7a21f"/><circle cx="534.02" cy="149.74" r="1.9" fill="#f7a21f"/><circle cx="534.73" cy="149.21" r="1.9" fill="#f7a21f"/><circle cx="535.69" cy="148.85" r="1.9" fill="#f7a21f"/><circle cx="536.15" cy="148.64" r="1.9" fill="#f7a21f"/><circle cx="537.06" cy="148.26" r="1.9" fill="#f7a21f"/><circle cx="538.08" cy="147.67" r="1.9" fill="#f7a21f"/><circle cx="538.71" cy="146.55" r="1.9" fill="#f7a21f"/><circle cx="539.62" cy="144.53" r="1.9" fill="#f7a21f"/><circle cx="540.11" cy="144.9" r="1.9" fill="#f7a21f"/><circle cx="541.29" cy="144.83" r="1.9" fill="#f7a21f"/><circle cx="542.15" cy="144.43" r="1.9" fill="#f7a21f"/><circle cx="542.82" cy="143.9" r="1.9" fill="#f7a21f"/><circle cx="543.54" cy="143.34" r="1.9" fill="#f7a21f"/><circle cx="544.5" cy="142.35" r="1.9" fill="#f7a21f"/><circle cx="545.68" cy="142.35" r="1.9" fill="#f7a21f"/><circle cx="546.68" cy="141" r="1.9" fill="#f7a21f"/><circle cx="547.35" cy="141.16" r="1.9" fill="#f7a21f"/><circle cx="548.39" cy="140.21" r="1.9" fill="#f7a21f"/><circle cx="549.47" cy="139.92" r="1.9" fill="#f7a21f"/><circle cx="550.48" cy="138.76" r="1.9" fill="#f7a21f"/><circle cx="551.56" cy="138.34" r="1.9" fill="#f7a21f"/><circle cx="552.18" cy="138.03" r="1.9" fill="#f7a21f"/><circle cx="553.61" cy="135.84" r="1.9" fill="#f7a21f"/><circle cx="554.39" cy="135.19" r="1.9" fill="#f7a21f"/><circle cx="555.45" cy="135.91" r="1.9" fill="#f7a21f"/><circle cx="556.54" cy="134.6" r="1.9" fill="#f7a21f"/><circle cx="557.57" cy="133.3" r="1.9" fill="#f7a21f"/><circle cx="558.94" cy="131.7" r="1.9" fill="#f7a21f"/><circle cx="559.78" cy="130.86" r="1.9" fill="#f7a21f"/><circle cx="561.38" cy="130.45" r="1.9" fill="#f7a21f"/><circle cx="562.19" cy="128.54" r="1.9" fill="#f7a21f"/><circle cx="563.55" cy="126.63" r="1.9" fill="#f7a21f"/><circle cx="564.68" cy="127.02" r="1.9" fill="#f7a21f"/><circle cx="565.73" cy="124.52" r="1.9" fill="#f7a21f"/><circle cx="567.18" cy="123.78" r="1.9" fill="#f7a21f"/><circle cx="568.61" cy="121.54" r="1.9" fill="#f7a21f"/><circle cx="569.94" cy="120.58" r="1.9" fill="#f7a21f"/><circle cx="571.09" cy="121.02" r="1.9" fill="#f7a21f"/><circle cx="572.32" cy="121.03" r="1.9" fill="#f7a21f"/><circle cx="573.52" cy="119.19" r="1.9" fill="#f7a21f"/><circle cx="575.03" cy="120.06" r="1.9" fill="#f7a21f"/><circle cx="576.67" cy="116.31" r="1.9" fill="#f7a21f"/><circle cx="577.81" cy="121.13" r="1.9" fill="#f7a21f"/><circle cx="579.25" cy="117.83" r="1.9" fill="#f7a21f"/><circle cx="580.6" cy="118.78" r="1.9" fill="#f7a21f"/><circle cx="582.12" cy="114.53" r="1.9" fill="#f7a21f"/><circle cx="583.88" cy="112.49" r="1.9" fill="#f7a21f"/><circle cx="585.38" cy="113.62" r="1.9" fill="#f7a21f"/><circle cx="586.61" cy="112.75" r="1.9" fill="#f7a21f"/><circle cx="588.05" cy="110.74" r="1.9" fill="#f7a21f"/><circle cx="590" cy="105.49" r="1.9" fill="#f7a21f"/><circle cx="591.36" cy="105.8" r="1.9" fill="#f7a21f"/><circle cx="593.14" cy="108.48" r="1.9" fill="#f7a21f"/><circle cx="594.78" cy="104.6" r="1.9" fill="#f7a21f"/><circle cx="596.47" cy="105.66" r="1.9" fill="#f7a21f"/><circle cx="597.97" cy="105.83" r="1.9" fill="#f7a21f"/><circle cx="599.89" cy="100.48" r="1.9" fill="#f7a21f"/><circle cx="601.44" cy="96.71" r="1.9" fill="#f7a21f"/><circle cx="603.31" cy="99.55" r="1.9" fill="#f7a21f"/><circle cx="604.78" cy="99.32" r="1.9" fill="#f7a21f"/><circle cx="606.82" cy="97.47" r="1.9" fill="#f7a21f"/><circle cx="608.46" cy="93.81" r="1.9" fill="#f7a21f"/><circle cx="610.35" cy="95.4" r="1.9" fill="#f7a21f"/><circle cx="611.87" cy="93.91" r="1.9" fill="#f7a21f"/><circle cx="613.83" cy="93.54" r="1.9" fill="#f7a21f"/><circle cx="615.34" cy="87.79" r="1.9" fill="#f7a21f"/><circle cx="617.24" cy="91.79" r="1.9" fill="#f7a21f"/><circle cx="619.11" cy="85" r="1.9" fill="#f7a21f"/><circle cx="620.63" cy="87.2" r="1.9" fill="#f7a21f"/><circle cx="622.19" cy="83.71" r="1.9" fill="#f7a21f"/><circle cx="624.07" cy="89.09" r="1.9" fill="#f7a21f"/><circle cx="625.91" cy="83.4" r="1.9" fill="#f7a21f"/><circle cx="627.4" cy="84.33" r="1.9" fill="#f7a21f"/><circle cx="629.42" cy="84.16" r="1.9" fill="#f7a21f"/><circle cx="630.98" cy="82.87" r="1.9" fill="#f7a21f"/><circle cx="632.81" cy="80.26" r="1.9" fill="#f7a21f"/><circle cx="634.59" cy="82.56" r="1.9" fill="#f7a21f"/><circle cx="636" cy="77.13" r="1.9" fill="#f7a21f"/><circle cx="638.03" cy="74.61" r="1.9" fill="#f7a21f"/><circle cx="639.56" cy="75.5" r="1.9" fill="#f7a21f"/><circle cx="641.21" cy="74.5" r="1.9" fill="#f7a21f"/><circle cx="643.14" cy="69.49" r="1.9" fill="#f7a21f"/><circle cx="644.72" cy="66.96" r="1.9" fill="#f7a21f"/><circle cx="646.54" cy="65.99" r="1.9" fill="#f7a21f"/><circle cx="648.14" cy="64.29" r="1.9" fill="#f7a21f"/><circle cx="650.08" cy="65.96" r="1.9" fill="#f7a21f"/><circle cx="651.87" cy="60.62" r="1.9" fill="#f7a21f"/><circle cx="653.44" cy="60.75" r="1.9" fill="#f7a21f"/><circle cx="655.25" cy="59.69" r="1.9" fill="#f7a21f"/><circle cx="656.93" cy="59.37" r="1.9" fill="#f7a21f"/><circle cx="658.92" cy="56.88" r="1.9" fill="#f7a21f"/><circle cx="660.44" cy="52.93" r="1.9" fill="#f7a21f"/><circle cx="662.04" cy="53.02" r="1.9" fill="#f7a21f"/><circle cx="663.99" cy="53.07" r="1.9" fill="#f7a21f"/><circle cx="665.92" cy="47.71" r="1.9" fill="#f7a21f"/><circle cx="667.59" cy="51.01" r="1.9" fill="#f7a21f"/><circle cx="669.24" cy="43.45" r="1.9" fill="#f7a21f"/><circle cx="670.84" cy="40.3" r="1.9" fill="#f7a21f"/><circle cx="672.67" cy="36.68" r="1.9" fill="#f7a21f"/><circle cx="674.59" cy="32.88" r="1.9" fill="#f7a21f"/><circle cx="520.59" cy="170.98" r="1.9" fill="#f7a21f"/><circle cx="591.69" cy="104.53" r="1.9" fill="#f7a21f"/><circle cx="593.58" cy="108.06" r="1.9" fill="#f7a21f"/><circle cx="605.56" cy="101.74" r="1.9" fill="#f7a21f"/><circle cx="638.04" cy="83.37" r="1.9" fill="#f7a21f"/><circle cx="650.96" cy="73.52" r="1.9" fill="#f7a21f"/><circle cx="645.45" cy="61.61" r="1.9" fill="#f7a21f"/><circle cx="627" cy="77.19" r="1.9" fill="#f7a21f"/><circle cx="630.79" cy="82.63" r="1.9" fill="#f7a21f"/><circle cx="635.36" cy="80.13" r="1.9" fill="#f7a21f"/><circle cx="659.16" cy="55.29" r="1.9" fill="#f7a21f"/><circle cx="662.79" cy="53.52" r="1.9" fill="#f7a21f"/><circle cx="677.61" cy="28.98" r="1.9" fill="#f7a21f"/><circle cx="605.4" cy="101.74" r="1.9" fill="#f7a21f"/>
<line x1="513.02" y1="178.62" x2="683.91" y2="19.27" stroke="#e8242c" stroke-width="1.15" stroke-dasharray="3.5 3.3"/>
<circle cx="524.15" cy="33.3" r="2.1" fill="#2e4ea3"/>
<text x="530.55" y="36.8" font-size="8.5" fill="#2b2b2b">SuSiE</text>
<circle cx="524.15" cy="47.4" r="2.1" fill="#f7a21f"/>
<text x="530.55" y="50.9" font-size="8.5" fill="#2b2b2b">FINEMAP</text>
<text x="28.6" y="233.8" font-size="14.5" font-weight="bold" text-anchor="end" fill="#111">d</text>
<path d="M55.25 248.1H59.25V395.1H55.25M55.25 365.7H59.25M55.25 336.3H59.25M55.25 306.9H59.25M55.25 277.5H59.25M65.6 405.3V401.3H223.25V405.3M97.13 401.3V405.3M128.66 401.3V405.3M160.19 401.3V405.3M191.72 401.3V405.3" stroke="#5c5c5c" stroke-width="1" fill="none"/>
<text x="50.25" y="398.6" font-size="9.6" text-anchor="end" fill="#2b2b2b">0</text>
<text x="65.6" y="416.8" font-size="9.6" text-anchor="middle" fill="#2b2b2b">0</text>
<text x="50.25" y="369.2" font-size="9.6" text-anchor="end" fill="#2b2b2b">0.2</text>
<text x="97.13" y="416.8" font-size="9.6" text-anchor="middle" fill="#2b2b2b">0.2</text>
<text x="50.25" y="339.8" font-size="9.6" text-anchor="end" fill="#2b2b2b">0.4</text>
<text x="128.66" y="416.8" font-size="9.6" text-anchor="middle" fill="#2b2b2b">0.4</text>
<text x="50.25" y="310.4" font-size="9.6" text-anchor="end" fill="#2b2b2b">0.6</text>
<text x="160.19" y="416.8" font-size="9.6" text-anchor="middle" fill="#2b2b2b">0.6</text>
<text x="50.25" y="281" font-size="9.6" text-anchor="end" fill="#2b2b2b">0.8</text>
<text x="191.72" y="416.8" font-size="9.6" text-anchor="middle" fill="#2b2b2b">0.8</text>
<text x="50.25" y="251.6" font-size="9.6" text-anchor="end" fill="#2b2b2b">1.0</text>
<text x="223.25" y="416.8" font-size="9.6" text-anchor="middle" fill="#2b2b2b">1.0</text>
<text x="144.43" y="431.7" font-size="9.9" text-anchor="middle" fill="#2b2b2b">PIP bin</text>
<text transform="translate(27.6,322.1) rotate(-90)" x="0" y="0" font-size="10" text-anchor="middle" fill="#2b2b2b">TDR in each PIP bin</text>
<text transform="translate(9.1,319.35) rotate(-90)" x="0" y="0" font-size="11.85" text-anchor="middle" fill="#2b2b2b">Large-effects genetic architecture</text>
<circle cx="66.37" cy="394.14" r="1.9" fill="#23257a"/><circle cx="66.67" cy="393.87" r="1.9" fill="#23257a"/><circle cx="67.11" cy="393.28" r="1.9" fill="#23257a"/><circle cx="68.03" cy="392.83" r="1.9" fill="#23257a"/><circle cx="68.41" cy="392.14" r="1.9" fill="#23257a"/><circle cx="69.18" cy="391.77" r="1.9" fill="#23257a"/><circle cx="69.71" cy="391.29" r="1.9" fill="#23257a"/><circle cx="70.26" cy="390.47" r="1.9" fill="#23257a"/><circle cx="70.6" cy="390.35" r="1.9" fill="#23257a"/><circle cx="71.22" cy="389.63" r="1.9" fill="#23257a"/><circle cx="72.05" cy="389.12" r="1.9" fill="#23257a"/><circle cx="72.41" cy="388.78" r="1.9" fill="#23257a"/><circle cx="72.88" cy="387.79" r="1.9" fill="#23257a"/><circle cx="73.64" cy="387.7" r="1.9" fill="#23257a"/><circle cx="74.07" cy="386.72" r="1.9" fill="#23257a"/><circle cx="74.75" cy="385.99" r="1.9" fill="#23257a"/><circle cx="75.66" cy="385.83" r="1.9" fill="#23257a"/><circle cx="76.12" cy="385.23" r="1.9" fill="#23257a"/><circle cx="76.59" cy="384.17" r="1.9" fill="#23257a"/><circle cx="77.27" cy="384.24" r="1.9" fill="#23257a"/><circle cx="77.94" cy="383.61" r="1.9" fill="#23257a"/><circle cx="78.71" cy="383.3" r="1.9" fill="#23257a"/><circle cx="78.88" cy="382.54" r="1.9" fill="#23257a"/><circle cx="79.63" cy="381.53" r="1.9" fill="#23257a"/><circle cx="80.39" cy="380.78" r="1.9" fill="#23257a"/><circle cx="80.98" cy="380.35" r="1.9" fill="#23257a"/><circle cx="81.42" cy="380.15" r="1.9" fill="#23257a"/><circle cx="82.09" cy="379.63" r="1.9" fill="#23257a"/><circle cx="82.86" cy="378.74" r="1.9" fill="#23257a"/><circle cx="83.68" cy="378.12" r="1.9" fill="#23257a"/><circle cx="84.24" cy="377.21" r="1.9" fill="#23257a"/><circle cx="84.56" cy="377.02" r="1.9" fill="#23257a"/><circle cx="85.36" cy="376.15" r="1.9" fill="#23257a"/><circle cx="86" cy="376.07" r="1.9" fill="#23257a"/><circle cx="86.68" cy="375.35" r="1.9" fill="#23257a"/><circle cx="87.63" cy="374.53" r="1.9" fill="#23257a"/><circle cx="87.85" cy="374.43" r="1.9" fill="#23257a"/><circle cx="88.68" cy="373.17" r="1.9" fill="#23257a"/><circle cx="89.62" cy="372.75" r="1.9" fill="#23257a"/><circle cx="90.25" cy="371.31" r="1.9" fill="#23257a"/><circle cx="90.82" cy="371.26" r="1.9" fill="#23257a"/><circle cx="91.57" cy="371.1" r="1.9" fill="#23257a"/><circle cx="92.23" cy="370.6" r="1.9" fill="#23257a"/><circle cx="92.88" cy="369.65" r="1.9" fill="#23257a"/><circle cx="93.42" cy="368.51" r="1.9" fill="#23257a"/><circle cx="94.05" cy="368.05" r="1.9" fill="#23257a"/><circle cx="94.85" cy="367.63" r="1.9" fill="#23257a"/><circle cx="95.32" cy="367.23" r="1.9" fill="#23257a"/><circle cx="96.07" cy="366.64" r="1.9" fill="#23257a"/><circle cx="96.84" cy="365.89" r="1.9" fill="#23257a"/><circle cx="97.64" cy="364.83" r="1.9" fill="#23257a"/><circle cx="98.33" cy="364.53" r="1.9" fill="#23257a"/><circle cx="99.27" cy="363.97" r="1.9" fill="#23257a"/><circle cx="99.8" cy="363.29" r="1.9" fill="#23257a"/><circle cx="100.52" cy="362.22" r="1.9" fill="#23257a"/><circle cx="101.17" cy="361.5" r="1.9" fill="#23257a"/><circle cx="102.14" cy="361.35" r="1.9" fill="#23257a"/><circle cx="102.95" cy="359.94" r="1.9" fill="#23257a"/><circle cx="103.66" cy="360.14" r="1.9" fill="#23257a"/><circle cx="104.12" cy="358.72" r="1.9" fill="#23257a"/><circle cx="104.9" cy="359.1" r="1.9" fill="#23257a"/><circle cx="105.9" cy="357.67" r="1.9" fill="#23257a"/><circle cx="106.35" cy="356.6" r="1.9" fill="#23257a"/><circle cx="107" cy="356.33" r="1.9" fill="#23257a"/><circle cx="107.74" cy="355.62" r="1.9" fill="#23257a"/><circle cx="108.83" cy="355.15" r="1.9" fill="#23257a"/><circle cx="109.43" cy="353.49" r="1.9" fill="#23257a"/><circle cx="110.06" cy="353.86" r="1.9" fill="#23257a"/><circle cx="110.9" cy="352.28" r="1.9" fill="#23257a"/><circle cx="111.78" cy="352.32" r="1.9" fill="#23257a"/><circle cx="112.74" cy="351.21" r="1.9" fill="#23257a"/><circle cx="113.38" cy="351.24" r="1.9" fill="#23257a"/><circle cx="114.02" cy="350.23" r="1.9" fill="#23257a"/><circle cx="115.15" cy="349.05" r="1.9" fill="#23257a"/><circle cx="116.09" cy="347.95" r="1.9" fill="#23257a"/><circle cx="116.85" cy="346.87" r="1.9" fill="#23257a"/><circle cx="117.94" cy="347.28" r="1.9" fill="#23257a"/><circle cx="119.47" cy="346.54" r="1.9" fill="#23257a"/><circle cx="120.57" cy="344.89" r="1.9" fill="#23257a"/><circle cx="121.99" cy="344.02" r="1.9" fill="#23257a"/><circle cx="123.05" cy="343.95" r="1.9" fill="#23257a"/><circle cx="124.95" cy="342.58" r="1.9" fill="#23257a"/><circle cx="126.57" cy="341.31" r="1.9" fill="#23257a"/><circle cx="128.25" cy="337.37" r="1.9" fill="#23257a"/><circle cx="129.79" cy="333.83" r="1.9" fill="#23257a"/><circle cx="131.83" cy="336.9" r="1.9" fill="#23257a"/><circle cx="133.88" cy="335.19" r="1.9" fill="#23257a"/><circle cx="135.74" cy="332.34" r="1.9" fill="#23257a"/><circle cx="137.33" cy="330.29" r="1.9" fill="#23257a"/><circle cx="139.32" cy="333.6" r="1.9" fill="#23257a"/><circle cx="141.52" cy="325.3" r="1.9" fill="#23257a"/><circle cx="143.1" cy="324.42" r="1.9" fill="#23257a"/><circle cx="145.32" cy="327.56" r="1.9" fill="#23257a"/><circle cx="146.77" cy="322.19" r="1.9" fill="#23257a"/><circle cx="148.69" cy="322.08" r="1.9" fill="#23257a"/><circle cx="150.79" cy="324.56" r="1.9" fill="#23257a"/><circle cx="152.45" cy="320.66" r="1.9" fill="#23257a"/><circle cx="154.35" cy="318.24" r="1.9" fill="#23257a"/><circle cx="156.68" cy="317.33" r="1.9" fill="#23257a"/><circle cx="158.44" cy="318.94" r="1.9" fill="#23257a"/><circle cx="160.16" cy="310.54" r="1.9" fill="#23257a"/><circle cx="161.94" cy="309.58" r="1.9" fill="#23257a"/><circle cx="164.04" cy="310.81" r="1.9" fill="#23257a"/><circle cx="165.71" cy="307.07" r="1.9" fill="#23257a"/><circle cx="167.6" cy="306.03" r="1.9" fill="#23257a"/><circle cx="169.7" cy="303.94" r="1.9" fill="#23257a"/><circle cx="171.42" cy="301.92" r="1.9" fill="#23257a"/><circle cx="173.51" cy="298.84" r="1.9" fill="#23257a"/><circle cx="175.32" cy="297.59" r="1.9" fill="#23257a"/><circle cx="177.29" cy="294.35" r="1.9" fill="#23257a"/><circle cx="179.35" cy="294.28" r="1.9" fill="#23257a"/><circle cx="180.96" cy="292.64" r="1.9" fill="#23257a"/><circle cx="182.81" cy="295.65" r="1.9" fill="#23257a"/><circle cx="184.86" cy="293.35" r="1.9" fill="#23257a"/><circle cx="186.57" cy="290.61" r="1.9" fill="#23257a"/><circle cx="188.58" cy="286.73" r="1.9" fill="#23257a"/><circle cx="190.45" cy="284.08" r="1.9" fill="#23257a"/><circle cx="192.47" cy="283.31" r="1.9" fill="#23257a"/><circle cx="194.39" cy="282.04" r="1.9" fill="#23257a"/><circle cx="196.12" cy="279.84" r="1.9" fill="#23257a"/><circle cx="198.15" cy="275.04" r="1.9" fill="#23257a"/><circle cx="200.02" cy="274.31" r="1.9" fill="#23257a"/><circle cx="201.8" cy="271.53" r="1.9" fill="#23257a"/><circle cx="203.87" cy="269.81" r="1.9" fill="#23257a"/><circle cx="205.45" cy="268.53" r="1.9" fill="#23257a"/><circle cx="207.47" cy="268.15" r="1.9" fill="#23257a"/><circle cx="209.2" cy="268.26" r="1.9" fill="#23257a"/><circle cx="211.18" cy="263.96" r="1.9" fill="#23257a"/><circle cx="213.24" cy="260.07" r="1.9" fill="#23257a"/><circle cx="215.08" cy="260.96" r="1.9" fill="#23257a"/><circle cx="217.09" cy="258.09" r="1.9" fill="#23257a"/><circle cx="218.96" cy="256.96" r="1.9" fill="#23257a"/><circle cx="220.59" cy="250.84" r="1.9" fill="#23257a"/><circle cx="222.45" cy="249.59" r="1.9" fill="#23257a"/><circle cx="120.94" cy="345.12" r="1.9" fill="#23257a"/><circle cx="123.77" cy="342.33" r="1.9" fill="#23257a"/><circle cx="127.4" cy="338.65" r="1.9" fill="#23257a"/><circle cx="130.08" cy="336.01" r="1.9" fill="#23257a"/><circle cx="132.44" cy="338.36" r="1.9" fill="#23257a"/><circle cx="134.18" cy="330.42" r="1.9" fill="#23257a"/><circle cx="137.49" cy="333.21" r="1.9" fill="#23257a"/><circle cx="140.17" cy="328.66" r="1.9" fill="#23257a"/><circle cx="143.01" cy="325.42" r="1.9" fill="#23257a"/><circle cx="145.69" cy="324.98" r="1.9" fill="#23257a"/><circle cx="148.37" cy="322.19" r="1.9" fill="#23257a"/><circle cx="149.47" cy="321.31" r="1.9" fill="#23257a"/><circle cx="151.68" cy="327.33" r="1.9" fill="#23257a"/><circle cx="153.57" cy="316.75" r="1.9" fill="#23257a"/><circle cx="155.3" cy="319.84" r="1.9" fill="#23257a"/><circle cx="157.67" cy="320.42" r="1.9" fill="#23257a"/><circle cx="157.67" cy="314.84" r="1.9" fill="#23257a"/><circle cx="159.87" cy="314.84" r="1.9" fill="#23257a"/><circle cx="160.51" cy="307.19" r="1.9" fill="#23257a"/><circle cx="163.19" cy="309.4" r="1.9" fill="#23257a"/><circle cx="163.97" cy="311.16" r="1.9" fill="#23257a"/><circle cx="165.87" cy="308.96" r="1.9" fill="#23257a"/><circle cx="168.7" cy="306.61" r="1.9" fill="#23257a"/><circle cx="167.28" cy="301.61" r="1.9" fill="#23257a"/><circle cx="172.33" cy="301.61" r="1.9" fill="#23257a"/><circle cx="175.01" cy="300.73" r="1.9" fill="#23257a"/><circle cx="176.9" cy="296.17" r="1.9" fill="#23257a"/><circle cx="178.79" cy="293.38" r="1.9" fill="#23257a"/><circle cx="173.75" cy="299.26" r="1.9" fill="#23257a"/><circle cx="176.43" cy="296.17" r="1.9" fill="#23257a"/><circle cx="178.79" cy="292.94" r="1.9" fill="#23257a"/><circle cx="180.21" cy="289.7" r="1.9" fill="#23257a"/><circle cx="181.47" cy="291.91" r="1.9" fill="#23257a"/><circle cx="182.89" cy="297.93" r="1.9" fill="#23257a"/><circle cx="184.78" cy="293.82" r="1.9" fill="#23257a"/><circle cx="186.2" cy="286.03" r="1.9" fill="#23257a"/><circle cx="187.94" cy="291.61" r="1.9" fill="#23257a"/><circle cx="189.36" cy="287.79" r="1.9" fill="#23257a"/><circle cx="191.09" cy="282.35" r="1.9" fill="#23257a"/><circle cx="193.45" cy="283.82" r="1.9" fill="#23257a"/><circle cx="195.82" cy="278.24" r="1.9" fill="#23257a"/><circle cx="197.08" cy="274.56" r="1.9" fill="#23257a"/><circle cx="199.44" cy="276.91" r="1.9" fill="#23257a"/><circle cx="201.18" cy="270.89" r="1.9" fill="#23257a"/><circle cx="203.54" cy="272.8" r="1.9" fill="#23257a"/><circle cx="204.96" cy="265.89" r="1.9" fill="#23257a"/><circle cx="206.7" cy="267.65" r="1.9" fill="#23257a"/><circle cx="208.12" cy="269.12" r="1.9" fill="#23257a"/><circle cx="210.01" cy="264.42" r="1.9" fill="#23257a"/><circle cx="212.69" cy="259.42" r="1.9" fill="#23257a"/><circle cx="214.89" cy="262.21" r="1.9" fill="#23257a"/><circle cx="216.31" cy="260.74" r="1.9" fill="#23257a"/><circle cx="218.21" cy="256.33" r="1.9" fill="#23257a"/><circle cx="220.1" cy="255.3" r="1.9" fill="#23257a"/><circle cx="220.89" cy="252.66" r="1.9" fill="#23257a"/><circle cx="224.2" cy="249.86" r="1.9" fill="#23257a"/>
<line x1="58.82" y1="401.42" x2="229.71" y2="242.07" stroke="#e8242c" stroke-width="1.15" stroke-dasharray="3.5 3.3"/>
<text x="253.6" y="233.8" font-size="14.5" font-weight="bold" text-anchor="end" fill="#111">e</text>
<path d="M283.65 248.1H287.65V395.1H283.65M283.65 365.7H287.65M283.65 336.3H287.65M283.65 306.9H287.65M283.65 277.5H287.65M294 405.3V401.3H451.65V405.3M325.53 401.3V405.3M357.06 401.3V405.3M388.59 401.3V405.3M420.12 401.3V405.3" stroke="#5c5c5c" stroke-width="1" fill="none"/>
<text x="278.65" y="398.6" font-size="9.6" text-anchor="end" fill="#2b2b2b">0</text>
<text x="294" y="416.8" font-size="9.6" text-anchor="middle" fill="#2b2b2b">0</text>
<text x="278.65" y="369.2" font-size="9.6" text-anchor="end" fill="#2b2b2b">0.2</text>
<text x="325.53" y="416.8" font-size="9.6" text-anchor="middle" fill="#2b2b2b">0.2</text>
<text x="278.65" y="339.8" font-size="9.6" text-anchor="end" fill="#2b2b2b">0.4</text>
<text x="357.06" y="416.8" font-size="9.6" text-anchor="middle" fill="#2b2b2b">0.4</text>
<text x="278.65" y="310.4" font-size="9.6" text-anchor="end" fill="#2b2b2b">0.6</text>
<text x="388.59" y="416.8" font-size="9.6" text-anchor="middle" fill="#2b2b2b">0.6</text>
<text x="278.65" y="281" font-size="9.6" text-anchor="end" fill="#2b2b2b">0.8</text>
<text x="420.12" y="416.8" font-size="9.6" text-anchor="middle" fill="#2b2b2b">0.8</text>
<text x="278.65" y="251.6" font-size="9.6" text-anchor="end" fill="#2b2b2b">1.0</text>
<text x="451.65" y="416.8" font-size="9.6" text-anchor="middle" fill="#2b2b2b">1.0</text>
<text x="372.82" y="431.7" font-size="9.9" text-anchor="middle" fill="#2b2b2b">PIP bin</text>
<text transform="translate(254.2,322.1) rotate(-90)" x="0" y="0" font-size="10" text-anchor="middle" fill="#2b2b2b">TDR in each PIP bin</text>
<circle cx="301.33" cy="372.32" r="1.9" fill="#5ab446"/><circle cx="302.08" cy="371.34" r="1.9" fill="#5ab446"/><circle cx="303.19" cy="371.26" r="1.9" fill="#5ab446"/><circle cx="304.08" cy="370.19" r="1.9" fill="#5ab446"/><circle cx="304.76" cy="369.68" r="1.9" fill="#5ab446"/><circle cx="305.71" cy="368.57" r="1.9" fill="#5ab446"/><circle cx="306.8" cy="367.67" r="1.9" fill="#5ab446"/><circle cx="307.64" cy="367.2" r="1.9" fill="#5ab446"/><circle cx="308.79" cy="365.35" r="1.9" fill="#5ab446"/><circle cx="309.64" cy="365.69" r="1.9" fill="#5ab446"/><circle cx="310.9" cy="363.85" r="1.9" fill="#5ab446"/><circle cx="311.56" cy="364.18" r="1.9" fill="#5ab446"/><circle cx="312.49" cy="363.67" r="1.9" fill="#5ab446"/><circle cx="313.82" cy="363.18" r="1.9" fill="#5ab446"/><circle cx="314.54" cy="363.8" r="1.9" fill="#5ab446"/><circle cx="315.67" cy="362.92" r="1.9" fill="#5ab446"/><circle cx="316.8" cy="361.71" r="1.9" fill="#5ab446"/><circle cx="317.7" cy="361.21" r="1.9" fill="#5ab446"/><circle cx="319" cy="361.19" r="1.9" fill="#5ab446"/><circle cx="320.04" cy="359.77" r="1.9" fill="#5ab446"/><circle cx="321.08" cy="359.76" r="1.9" fill="#5ab446"/><circle cx="322.31" cy="357.53" r="1.9" fill="#5ab446"/><circle cx="323.22" cy="358.71" r="1.9" fill="#5ab446"/><circle cx="324.66" cy="357.35" r="1.9" fill="#5ab446"/><circle cx="325.75" cy="356.45" r="1.9" fill="#5ab446"/><circle cx="326.63" cy="352.85" r="1.9" fill="#5ab446"/><circle cx="327.95" cy="353.93" r="1.9" fill="#5ab446"/><circle cx="329.18" cy="353.42" r="1.9" fill="#5ab446"/><circle cx="330.18" cy="352.64" r="1.9" fill="#5ab446"/><circle cx="331.66" cy="352.07" r="1.9" fill="#5ab446"/><circle cx="333.04" cy="350.08" r="1.9" fill="#5ab446"/><circle cx="334.16" cy="347.45" r="1.9" fill="#5ab446"/><circle cx="335.45" cy="350.21" r="1.9" fill="#5ab446"/><circle cx="336.98" cy="347.03" r="1.9" fill="#5ab446"/><circle cx="338.18" cy="347.21" r="1.9" fill="#5ab446"/><circle cx="339.77" cy="346.78" r="1.9" fill="#5ab446"/><circle cx="341.31" cy="343.5" r="1.9" fill="#5ab446"/><circle cx="342.78" cy="345.28" r="1.9" fill="#5ab446"/><circle cx="344.54" cy="344.65" r="1.9" fill="#5ab446"/><circle cx="346.37" cy="342.51" r="1.9" fill="#5ab446"/><circle cx="348.12" cy="339.14" r="1.9" fill="#5ab446"/><circle cx="350.38" cy="336.61" r="1.9" fill="#5ab446"/><circle cx="352.15" cy="334.55" r="1.9" fill="#5ab446"/><circle cx="354.66" cy="331.1" r="1.9" fill="#5ab446"/><circle cx="356.56" cy="334.44" r="1.9" fill="#5ab446"/><circle cx="359.33" cy="331.14" r="1.9" fill="#5ab446"/><circle cx="361.79" cy="327.48" r="1.9" fill="#5ab446"/><circle cx="364.22" cy="325.92" r="1.9" fill="#5ab446"/><circle cx="366.93" cy="320.13" r="1.9" fill="#5ab446"/><circle cx="369.71" cy="325.31" r="1.9" fill="#5ab446"/><circle cx="372.73" cy="319.19" r="1.9" fill="#5ab446"/><circle cx="376.03" cy="314.96" r="1.9" fill="#5ab446"/><circle cx="379.23" cy="312.6" r="1.9" fill="#5ab446"/><circle cx="382.3" cy="309.39" r="1.9" fill="#5ab446"/><circle cx="385.43" cy="309.6" r="1.9" fill="#5ab446"/><circle cx="388.74" cy="300.74" r="1.9" fill="#5ab446"/><circle cx="391.81" cy="298.08" r="1.9" fill="#5ab446"/><circle cx="394.74" cy="301.14" r="1.9" fill="#5ab446"/><circle cx="398.3" cy="293.31" r="1.9" fill="#5ab446"/><circle cx="401.4" cy="294.84" r="1.9" fill="#5ab446"/><circle cx="404.36" cy="290.82" r="1.9" fill="#5ab446"/><circle cx="407.63" cy="289.24" r="1.9" fill="#5ab446"/><circle cx="410.51" cy="285.47" r="1.9" fill="#5ab446"/><circle cx="413.71" cy="283.35" r="1.9" fill="#5ab446"/><circle cx="416.95" cy="283.99" r="1.9" fill="#5ab446"/><circle cx="420.01" cy="280.81" r="1.9" fill="#5ab446"/><circle cx="423.14" cy="277.2" r="1.9" fill="#5ab446"/><circle cx="426.66" cy="276.67" r="1.9" fill="#5ab446"/><circle cx="429.69" cy="275.87" r="1.9" fill="#5ab446"/><circle cx="432.72" cy="270.79" r="1.9" fill="#5ab446"/><circle cx="435.88" cy="265.2" r="1.9" fill="#5ab446"/><circle cx="439.33" cy="264.71" r="1.9" fill="#5ab446"/><circle cx="442.23" cy="262.95" r="1.9" fill="#5ab446"/><circle cx="445.21" cy="257.01" r="1.9" fill="#5ab446"/><circle cx="448.48" cy="255.13" r="1.9" fill="#5ab446"/><circle cx="295.58" cy="391.28" r="1.9" fill="#5ab446"/><circle cx="297.63" cy="383.93" r="1.9" fill="#5ab446"/><circle cx="299.52" cy="377.46" r="1.9" fill="#5ab446"/><circle cx="355.96" cy="325.28" r="1.9" fill="#5ab446"/><circle cx="378.19" cy="309.99" r="1.9" fill="#5ab446"/><circle cx="375.19" cy="321.16" r="1.9" fill="#5ab446"/><circle cx="372.51" cy="321.01" r="1.9" fill="#5ab446"/><circle cx="371.56" cy="319.84" r="1.9" fill="#5ab446"/><circle cx="375.51" cy="319.84" r="1.9" fill="#5ab446"/><circle cx="378.34" cy="310.28" r="1.9" fill="#5ab446"/><circle cx="384.49" cy="307.49" r="1.9" fill="#5ab446"/><circle cx="390.64" cy="293.08" r="1.9" fill="#5ab446"/><circle cx="394.9" cy="302.05" r="1.9" fill="#5ab446"/><circle cx="399.63" cy="290.29" r="1.9" fill="#5ab446"/><circle cx="404.36" cy="289.7" r="1.9" fill="#5ab446"/><circle cx="408.61" cy="291.76" r="1.9" fill="#5ab446"/><circle cx="412.71" cy="281.47" r="1.9" fill="#5ab446"/><circle cx="417.6" cy="286.91" r="1.9" fill="#5ab446"/><circle cx="418.86" cy="280.73" r="1.9" fill="#5ab446"/><circle cx="423.12" cy="276.03" r="1.9" fill="#5ab446"/><circle cx="429.26" cy="278.68" r="1.9" fill="#5ab446"/><circle cx="429.89" cy="275.3" r="1.9" fill="#5ab446"/><circle cx="434.78" cy="271.18" r="1.9" fill="#5ab446"/><circle cx="436.2" cy="265" r="1.9" fill="#5ab446"/><circle cx="438.88" cy="268.39" r="1.9" fill="#5ab446"/><circle cx="445.03" cy="258.1" r="1.9" fill="#5ab446"/><circle cx="449.13" cy="254.57" r="1.9" fill="#5ab446"/><circle cx="452.6" cy="251.19" r="1.9" fill="#5ab446"/><circle cx="295.92" cy="374.91" r="1.9" fill="#e6192a"/><circle cx="296.8" cy="374.42" r="1.9" fill="#e6192a"/><circle cx="297.17" cy="373.61" r="1.9" fill="#e6192a"/><circle cx="297.9" cy="371.33" r="1.9" fill="#e6192a"/><circle cx="298.78" cy="372.69" r="1.9" fill="#e6192a"/><circle cx="299.4" cy="371.61" r="1.9" fill="#e6192a"/><circle cx="299.95" cy="371.13" r="1.9" fill="#e6192a"/><circle cx="300.68" cy="370.87" r="1.9" fill="#e6192a"/><circle cx="301.29" cy="370.23" r="1.9" fill="#e6192a"/><circle cx="302.43" cy="369.2" r="1.9" fill="#e6192a"/><circle cx="302.91" cy="368.88" r="1.9" fill="#e6192a"/><circle cx="303.94" cy="368.39" r="1.9" fill="#e6192a"/><circle cx="304.25" cy="368.45" r="1.9" fill="#e6192a"/><circle cx="305.28" cy="367.9" r="1.9" fill="#e6192a"/><circle cx="305.9" cy="367.32" r="1.9" fill="#e6192a"/><circle cx="306.82" cy="367.22" r="1.9" fill="#e6192a"/><circle cx="307.72" cy="366.46" r="1.9" fill="#e6192a"/><circle cx="308.12" cy="365.89" r="1.9" fill="#e6192a"/><circle cx="309.34" cy="365.63" r="1.9" fill="#e6192a"/><circle cx="310.15" cy="364.78" r="1.9" fill="#e6192a"/><circle cx="310.8" cy="364.44" r="1.9" fill="#e6192a"/><circle cx="311.49" cy="364.92" r="1.9" fill="#e6192a"/><circle cx="312.37" cy="362.99" r="1.9" fill="#e6192a"/><circle cx="313.41" cy="362.82" r="1.9" fill="#e6192a"/><circle cx="313.96" cy="362.22" r="1.9" fill="#e6192a"/><circle cx="315.23" cy="362.03" r="1.9" fill="#e6192a"/><circle cx="316.07" cy="360.82" r="1.9" fill="#e6192a"/><circle cx="316.63" cy="359.56" r="1.9" fill="#e6192a"/><circle cx="317.71" cy="358.91" r="1.9" fill="#e6192a"/><circle cx="318.81" cy="357.78" r="1.9" fill="#e6192a"/><circle cx="319.54" cy="357.16" r="1.9" fill="#e6192a"/><circle cx="320.36" cy="356.87" r="1.9" fill="#e6192a"/><circle cx="321.2" cy="356.11" r="1.9" fill="#e6192a"/><circle cx="322.35" cy="354.78" r="1.9" fill="#e6192a"/><circle cx="323.3" cy="353.98" r="1.9" fill="#e6192a"/><circle cx="324.19" cy="355.53" r="1.9" fill="#e6192a"/><circle cx="325.29" cy="353.16" r="1.9" fill="#e6192a"/><circle cx="326.57" cy="351.47" r="1.9" fill="#e6192a"/><circle cx="327.22" cy="349.62" r="1.9" fill="#e6192a"/><circle cx="328.16" cy="349.13" r="1.9" fill="#e6192a"/><circle cx="329.56" cy="347.55" r="1.9" fill="#e6192a"/><circle cx="330.46" cy="345.62" r="1.9" fill="#e6192a"/><circle cx="331.43" cy="345.73" r="1.9" fill="#e6192a"/><circle cx="332.6" cy="343.98" r="1.9" fill="#e6192a"/><circle cx="333.78" cy="344.92" r="1.9" fill="#e6192a"/><circle cx="334.66" cy="344.64" r="1.9" fill="#e6192a"/><circle cx="335.83" cy="344.98" r="1.9" fill="#e6192a"/><circle cx="337.38" cy="342.74" r="1.9" fill="#e6192a"/><circle cx="338.51" cy="342.02" r="1.9" fill="#e6192a"/><circle cx="339.63" cy="343.35" r="1.9" fill="#e6192a"/><circle cx="341" cy="338.4" r="1.9" fill="#e6192a"/><circle cx="342.71" cy="337.52" r="1.9" fill="#e6192a"/><circle cx="344.3" cy="340.58" r="1.9" fill="#e6192a"/><circle cx="345.52" cy="335.6" r="1.9" fill="#e6192a"/><circle cx="347.56" cy="336.66" r="1.9" fill="#e6192a"/><circle cx="348.9" cy="333.04" r="1.9" fill="#e6192a"/><circle cx="351.14" cy="333.97" r="1.9" fill="#e6192a"/><circle cx="352.83" cy="335.87" r="1.9" fill="#e6192a"/><circle cx="354.6" cy="326.77" r="1.9" fill="#e6192a"/><circle cx="356.6" cy="327.96" r="1.9" fill="#e6192a"/><circle cx="358.98" cy="327.07" r="1.9" fill="#e6192a"/><circle cx="360.99" cy="323.15" r="1.9" fill="#e6192a"/><circle cx="363.3" cy="323.25" r="1.9" fill="#e6192a"/><circle cx="365.73" cy="319.44" r="1.9" fill="#e6192a"/><circle cx="368.41" cy="317.49" r="1.9" fill="#e6192a"/><circle cx="371.07" cy="318.06" r="1.9" fill="#e6192a"/><circle cx="373.79" cy="314.1" r="1.9" fill="#e6192a"/><circle cx="376.54" cy="308.67" r="1.9" fill="#e6192a"/><circle cx="379.49" cy="304.27" r="1.9" fill="#e6192a"/><circle cx="382.45" cy="304.29" r="1.9" fill="#e6192a"/><circle cx="385.24" cy="299.75" r="1.9" fill="#e6192a"/><circle cx="388" cy="297.53" r="1.9" fill="#e6192a"/><circle cx="390.67" cy="294.36" r="1.9" fill="#e6192a"/><circle cx="393.71" cy="297.64" r="1.9" fill="#e6192a"/><circle cx="396.64" cy="295.43" r="1.9" fill="#e6192a"/><circle cx="399.39" cy="290.67" r="1.9" fill="#e6192a"/><circle cx="402.33" cy="288.7" r="1.9" fill="#e6192a"/><circle cx="405.11" cy="288.15" r="1.9" fill="#e6192a"/><circle cx="408.09" cy="288.51" r="1.9" fill="#e6192a"/><circle cx="410.96" cy="292.78" r="1.9" fill="#e6192a"/><circle cx="413.44" cy="288.01" r="1.9" fill="#e6192a"/><circle cx="416.63" cy="280.35" r="1.9" fill="#e6192a"/><circle cx="419.18" cy="274.74" r="1.9" fill="#e6192a"/><circle cx="422.09" cy="277.28" r="1.9" fill="#e6192a"/><circle cx="424.98" cy="270.95" r="1.9" fill="#e6192a"/><circle cx="427.66" cy="273.73" r="1.9" fill="#e6192a"/><circle cx="430.76" cy="270.12" r="1.9" fill="#e6192a"/><circle cx="433.65" cy="268.86" r="1.9" fill="#e6192a"/><circle cx="436.43" cy="270.24" r="1.9" fill="#e6192a"/><circle cx="439.16" cy="264.58" r="1.9" fill="#e6192a"/><circle cx="442.11" cy="263.97" r="1.9" fill="#e6192a"/><circle cx="444.89" cy="264.38" r="1.9" fill="#e6192a"/><circle cx="447.77" cy="259.04" r="1.9" fill="#e6192a"/><circle cx="450.42" cy="256.34" r="1.9" fill="#e6192a"/><circle cx="294.79" cy="393.92" r="1.9" fill="#e6192a"/><circle cx="307.56" cy="368.64" r="1.9" fill="#e6192a"/><circle cx="337.04" cy="337.33" r="1.9" fill="#e6192a"/><circle cx="337.35" cy="336.74" r="1.9" fill="#e6192a"/><circle cx="348.39" cy="332.92" r="1.9" fill="#e6192a"/><circle cx="352.96" cy="329.83" r="1.9" fill="#e6192a"/><circle cx="354.54" cy="321.45" r="1.9" fill="#e6192a"/><circle cx="370.46" cy="318.37" r="1.9" fill="#e6192a"/><circle cx="373.3" cy="312.78" r="1.9" fill="#e6192a"/><circle cx="375.98" cy="314.54" r="1.9" fill="#e6192a"/><circle cx="378.19" cy="307.05" r="1.9" fill="#e6192a"/><circle cx="379.76" cy="301.61" r="1.9" fill="#e6192a"/><circle cx="372.82" cy="313.07" r="1.9" fill="#e6192a"/><circle cx="375.51" cy="315.13" r="1.9" fill="#e6192a"/><circle cx="378.34" cy="306.9" r="1.9" fill="#e6192a"/><circle cx="379.6" cy="301.31" r="1.9" fill="#e6192a"/><circle cx="382.44" cy="315.13" r="1.9" fill="#e6192a"/><circle cx="385.12" cy="300.58" r="1.9" fill="#e6192a"/><circle cx="387.17" cy="293.08" r="1.9" fill="#e6192a"/><circle cx="389.38" cy="299.26" r="1.9" fill="#e6192a"/><circle cx="392.06" cy="297.93" r="1.9" fill="#e6192a"/><circle cx="395.53" cy="294.55" r="1.9" fill="#e6192a"/><circle cx="397.58" cy="302.05" r="1.9" fill="#e6192a"/><circle cx="398.21" cy="297.2" r="1.9" fill="#e6192a"/><circle cx="400.26" cy="281.47" r="1.9" fill="#e6192a"/><circle cx="401.67" cy="289.11" r="1.9" fill="#e6192a"/><circle cx="404.36" cy="284.85" r="1.9" fill="#e6192a"/><circle cx="406.56" cy="294.55" r="1.9" fill="#e6192a"/><circle cx="409.24" cy="282.2" r="1.9" fill="#e6192a"/><circle cx="411.29" cy="288.38" r="1.9" fill="#e6192a"/><circle cx="412.71" cy="293.82" r="1.9" fill="#e6192a"/><circle cx="414.76" cy="286.91" r="1.9" fill="#e6192a"/><circle cx="416.81" cy="279.41" r="1.9" fill="#e6192a"/><circle cx="418.86" cy="274.56" r="1.9" fill="#e6192a"/><circle cx="420.91" cy="285.59" r="1.9" fill="#e6192a"/><circle cx="422.33" cy="269.71" r="1.9" fill="#e6192a"/><circle cx="425.01" cy="273.24" r="1.9" fill="#e6192a"/><circle cx="428.48" cy="277.94" r="1.9" fill="#e6192a"/><circle cx="429.89" cy="265.74" r="1.9" fill="#e6192a"/><circle cx="432.57" cy="269.12" r="1.9" fill="#e6192a"/><circle cx="434.78" cy="274.56" r="1.9" fill="#e6192a"/><circle cx="437.46" cy="266.92" r="1.9" fill="#e6192a"/><circle cx="441.72" cy="262.21" r="1.9" fill="#e6192a"/><circle cx="444.4" cy="260.15" r="1.9" fill="#e6192a"/><circle cx="448.5" cy="257.36" r="1.9" fill="#e6192a"/><circle cx="451.97" cy="252.66" r="1.9" fill="#e6192a"/>
<line x1="287.22" y1="401.42" x2="458.11" y2="242.07" stroke="#e8242c" stroke-width="1.15" stroke-dasharray="3.5 3.3"/>
<text x="479" y="233.8" font-size="14.5" font-weight="bold" text-anchor="end" fill="#111">f</text>
<path d="M510.35 248.1H514.35V395.1H510.35M510.35 365.7H514.35M510.35 336.3H514.35M510.35 306.9H514.35M510.35 277.5H514.35M520.7 405.3V401.3H678.35V405.3M552.23 401.3V405.3M583.76 401.3V405.3M615.29 401.3V405.3M646.82 401.3V405.3" stroke="#5c5c5c" stroke-width="1" fill="none"/>
<text x="505.35" y="398.6" font-size="9.6" text-anchor="end" fill="#2b2b2b">0</text>
<text x="520.7" y="416.8" font-size="9.6" text-anchor="middle" fill="#2b2b2b">0</text>
<text x="505.35" y="369.2" font-size="9.6" text-anchor="end" fill="#2b2b2b">0.2</text>
<text x="552.23" y="416.8" font-size="9.6" text-anchor="middle" fill="#2b2b2b">0.2</text>
<text x="505.35" y="339.8" font-size="9.6" text-anchor="end" fill="#2b2b2b">0.4</text>
<text x="583.76" y="416.8" font-size="9.6" text-anchor="middle" fill="#2b2b2b">0.4</text>
<text x="505.35" y="310.4" font-size="9.6" text-anchor="end" fill="#2b2b2b">0.6</text>
<text x="615.29" y="416.8" font-size="9.6" text-anchor="middle" fill="#2b2b2b">0.6</text>
<text x="505.35" y="281" font-size="9.6" text-anchor="end" fill="#2b2b2b">0.8</text>
<text x="646.82" y="416.8" font-size="9.6" text-anchor="middle" fill="#2b2b2b">0.8</text>
<text x="505.35" y="251.6" font-size="9.6" text-anchor="end" fill="#2b2b2b">1.0</text>
<text x="678.35" y="416.8" font-size="9.6" text-anchor="middle" fill="#2b2b2b">1.0</text>
<text x="599.52" y="431.7" font-size="9.9" text-anchor="middle" fill="#2b2b2b">PIP bin</text>
<text transform="translate(484.2,322.1) rotate(-90)" x="0" y="0" font-size="10" text-anchor="middle" fill="#2b2b2b">TDR in each PIP bin</text>
<circle cx="521.47" cy="391.48" r="1.9" fill="#2e4ea3"/><circle cx="522.23" cy="390.25" r="1.9" fill="#2e4ea3"/><circle cx="522.4" cy="390.25" r="1.9" fill="#2e4ea3"/><circle cx="523.02" cy="388.47" r="1.9" fill="#2e4ea3"/><circle cx="523.84" cy="387.55" r="1.9" fill="#2e4ea3"/><circle cx="524.36" cy="386.7" r="1.9" fill="#2e4ea3"/><circle cx="525.13" cy="386.63" r="1.9" fill="#2e4ea3"/><circle cx="525.5" cy="385.21" r="1.9" fill="#2e4ea3"/><circle cx="526.18" cy="384.41" r="1.9" fill="#2e4ea3"/><circle cx="527.15" cy="383.82" r="1.9" fill="#2e4ea3"/><circle cx="527.65" cy="382.68" r="1.9" fill="#2e4ea3"/><circle cx="528.4" cy="381.36" r="1.9" fill="#2e4ea3"/><circle cx="528.78" cy="379.3" r="1.9" fill="#2e4ea3"/><circle cx="529.77" cy="376.66" r="1.9" fill="#2e4ea3"/><circle cx="530.34" cy="375.19" r="1.9" fill="#2e4ea3"/><circle cx="530.96" cy="374.43" r="1.9" fill="#2e4ea3"/><circle cx="531.72" cy="373.62" r="1.9" fill="#2e4ea3"/><circle cx="532.76" cy="373.11" r="1.9" fill="#2e4ea3"/><circle cx="533.51" cy="371.5" r="1.9" fill="#2e4ea3"/><circle cx="534.1" cy="370.83" r="1.9" fill="#2e4ea3"/><circle cx="534.67" cy="371.16" r="1.9" fill="#2e4ea3"/><circle cx="535.51" cy="369.04" r="1.9" fill="#2e4ea3"/><circle cx="536.55" cy="368.29" r="1.9" fill="#2e4ea3"/><circle cx="537.52" cy="367.54" r="1.9" fill="#2e4ea3"/><circle cx="538.04" cy="367.06" r="1.9" fill="#2e4ea3"/><circle cx="539.06" cy="366.68" r="1.9" fill="#2e4ea3"/><circle cx="539.68" cy="365.6" r="1.9" fill="#2e4ea3"/><circle cx="541" cy="365.21" r="1.9" fill="#2e4ea3"/><circle cx="541.66" cy="365.49" r="1.9" fill="#2e4ea3"/><circle cx="542.43" cy="363.91" r="1.9" fill="#2e4ea3"/><circle cx="543.59" cy="363.47" r="1.9" fill="#2e4ea3"/><circle cx="544.72" cy="362.61" r="1.9" fill="#2e4ea3"/><circle cx="545.26" cy="363.39" r="1.9" fill="#2e4ea3"/><circle cx="546.29" cy="362.14" r="1.9" fill="#2e4ea3"/><circle cx="547.35" cy="359.08" r="1.9" fill="#2e4ea3"/><circle cx="548.3" cy="360.22" r="1.9" fill="#2e4ea3"/><circle cx="549.62" cy="358.92" r="1.9" fill="#2e4ea3"/><circle cx="550.63" cy="358.96" r="1.9" fill="#2e4ea3"/><circle cx="551.44" cy="358.91" r="1.9" fill="#2e4ea3"/><circle cx="552.79" cy="357.15" r="1.9" fill="#2e4ea3"/><circle cx="553.99" cy="356.83" r="1.9" fill="#2e4ea3"/><circle cx="555.17" cy="356.53" r="1.9" fill="#2e4ea3"/><circle cx="556.19" cy="357" r="1.9" fill="#2e4ea3"/><circle cx="557.57" cy="355.64" r="1.9" fill="#2e4ea3"/><circle cx="558.58" cy="354.05" r="1.9" fill="#2e4ea3"/><circle cx="559.69" cy="354.66" r="1.9" fill="#2e4ea3"/><circle cx="560.99" cy="354.11" r="1.9" fill="#2e4ea3"/><circle cx="562.22" cy="352.94" r="1.9" fill="#2e4ea3"/><circle cx="563.42" cy="353.53" r="1.9" fill="#2e4ea3"/><circle cx="565.08" cy="353.02" r="1.9" fill="#2e4ea3"/><circle cx="566.08" cy="351.93" r="1.9" fill="#2e4ea3"/><circle cx="567.68" cy="353.55" r="1.9" fill="#2e4ea3"/><circle cx="569.2" cy="351.55" r="1.9" fill="#2e4ea3"/><circle cx="570.5" cy="349.61" r="1.9" fill="#2e4ea3"/><circle cx="571.88" cy="348.51" r="1.9" fill="#2e4ea3"/><circle cx="573.45" cy="346.03" r="1.9" fill="#2e4ea3"/><circle cx="575.21" cy="346.26" r="1.9" fill="#2e4ea3"/><circle cx="576.44" cy="343.31" r="1.9" fill="#2e4ea3"/><circle cx="578.35" cy="343.9" r="1.9" fill="#2e4ea3"/><circle cx="580.03" cy="342.83" r="1.9" fill="#2e4ea3"/><circle cx="581.31" cy="337.9" r="1.9" fill="#2e4ea3"/><circle cx="583.2" cy="340.52" r="1.9" fill="#2e4ea3"/><circle cx="584.64" cy="336.46" r="1.9" fill="#2e4ea3"/><circle cx="586.58" cy="335.87" r="1.9" fill="#2e4ea3"/><circle cx="588.48" cy="334.21" r="1.9" fill="#2e4ea3"/><circle cx="590.08" cy="334.99" r="1.9" fill="#2e4ea3"/><circle cx="592.14" cy="333.54" r="1.9" fill="#2e4ea3"/><circle cx="594.04" cy="331.57" r="1.9" fill="#2e4ea3"/><circle cx="596.05" cy="326.6" r="1.9" fill="#2e4ea3"/><circle cx="598.03" cy="327.19" r="1.9" fill="#2e4ea3"/><circle cx="600.08" cy="330.12" r="1.9" fill="#2e4ea3"/><circle cx="601.84" cy="323.57" r="1.9" fill="#2e4ea3"/><circle cx="604.15" cy="322.2" r="1.9" fill="#2e4ea3"/><circle cx="606.1" cy="324.26" r="1.9" fill="#2e4ea3"/><circle cx="607.96" cy="317.54" r="1.9" fill="#2e4ea3"/><circle cx="610.04" cy="321.39" r="1.9" fill="#2e4ea3"/><circle cx="612.31" cy="319.23" r="1.9" fill="#2e4ea3"/><circle cx="614.17" cy="317.84" r="1.9" fill="#2e4ea3"/><circle cx="616.12" cy="315.98" r="1.9" fill="#2e4ea3"/><circle cx="618.42" cy="312.71" r="1.9" fill="#2e4ea3"/><circle cx="620.39" cy="311.25" r="1.9" fill="#2e4ea3"/><circle cx="622.71" cy="308.29" r="1.9" fill="#2e4ea3"/><circle cx="624.56" cy="307.69" r="1.9" fill="#2e4ea3"/><circle cx="626.83" cy="307.11" r="1.9" fill="#2e4ea3"/><circle cx="628.83" cy="307.77" r="1.9" fill="#2e4ea3"/><circle cx="630.71" cy="304.84" r="1.9" fill="#2e4ea3"/><circle cx="632.94" cy="300.26" r="1.9" fill="#2e4ea3"/><circle cx="634.81" cy="298.79" r="1.9" fill="#2e4ea3"/><circle cx="636.75" cy="295.53" r="1.9" fill="#2e4ea3"/><circle cx="638.7" cy="294.75" r="1.9" fill="#2e4ea3"/><circle cx="641.03" cy="294" r="1.9" fill="#2e4ea3"/><circle cx="643.05" cy="291.24" r="1.9" fill="#2e4ea3"/><circle cx="644.83" cy="292.07" r="1.9" fill="#2e4ea3"/><circle cx="647.27" cy="290.81" r="1.9" fill="#2e4ea3"/><circle cx="649.01" cy="287.76" r="1.9" fill="#2e4ea3"/><circle cx="651.25" cy="290.3" r="1.9" fill="#2e4ea3"/><circle cx="653.41" cy="283.57" r="1.9" fill="#2e4ea3"/><circle cx="655.34" cy="282.66" r="1.9" fill="#2e4ea3"/><circle cx="657.42" cy="282.7" r="1.9" fill="#2e4ea3"/><circle cx="659.24" cy="282.4" r="1.9" fill="#2e4ea3"/><circle cx="661.48" cy="283.04" r="1.9" fill="#2e4ea3"/><circle cx="663.41" cy="274.45" r="1.9" fill="#2e4ea3"/><circle cx="665.52" cy="271.56" r="1.9" fill="#2e4ea3"/><circle cx="667.71" cy="270.64" r="1.9" fill="#2e4ea3"/><circle cx="669.55" cy="268.53" r="1.9" fill="#2e4ea3"/><circle cx="671.9" cy="264.41" r="1.9" fill="#2e4ea3"/><circle cx="673.77" cy="255.15" r="1.9" fill="#2e4ea3"/><circle cx="599.05" cy="328.22" r="1.9" fill="#2e4ea3"/><circle cx="611.51" cy="322.63" r="1.9" fill="#2e4ea3"/><circle cx="636.42" cy="306.17" r="1.9" fill="#2e4ea3"/><circle cx="635" cy="294.55" r="1.9" fill="#2e4ea3"/><circle cx="661.8" cy="284.85" r="1.9" fill="#2e4ea3"/><circle cx="665.9" cy="267.65" r="1.9" fill="#2e4ea3"/><circle cx="674.88" cy="258.1" r="1.9" fill="#2e4ea3"/><circle cx="593.53" cy="334.54" r="1.9" fill="#2e4ea3"/><circle cx="571.46" cy="351.44" r="1.9" fill="#2e4ea3"/><circle cx="522.31" cy="385.41" r="1.9" fill="#f7a21f"/><circle cx="522.64" cy="384.25" r="1.9" fill="#f7a21f"/><circle cx="523.43" cy="383.72" r="1.9" fill="#f7a21f"/><circle cx="523.64" cy="384.01" r="1.9" fill="#f7a21f"/><circle cx="524.34" cy="383.12" r="1.9" fill="#f7a21f"/><circle cx="525.08" cy="382.17" r="1.9" fill="#f7a21f"/><circle cx="525.65" cy="381.12" r="1.9" fill="#f7a21f"/><circle cx="526.02" cy="381.15" r="1.9" fill="#f7a21f"/><circle cx="526.48" cy="380.98" r="1.9" fill="#f7a21f"/><circle cx="527.09" cy="379.61" r="1.9" fill="#f7a21f"/><circle cx="527.78" cy="379.79" r="1.9" fill="#f7a21f"/><circle cx="528.42" cy="379.27" r="1.9" fill="#f7a21f"/><circle cx="529.12" cy="377.83" r="1.9" fill="#f7a21f"/><circle cx="529.3" cy="377.96" r="1.9" fill="#f7a21f"/><circle cx="529.91" cy="376.44" r="1.9" fill="#f7a21f"/><circle cx="530.68" cy="375.75" r="1.9" fill="#f7a21f"/><circle cx="531.36" cy="375.68" r="1.9" fill="#f7a21f"/><circle cx="532.11" cy="375.7" r="1.9" fill="#f7a21f"/><circle cx="532.73" cy="374.22" r="1.9" fill="#f7a21f"/><circle cx="533.61" cy="373.95" r="1.9" fill="#f7a21f"/><circle cx="533.98" cy="373.52" r="1.9" fill="#f7a21f"/><circle cx="534.63" cy="372.57" r="1.9" fill="#f7a21f"/><circle cx="535.57" cy="372.28" r="1.9" fill="#f7a21f"/><circle cx="536.32" cy="372.83" r="1.9" fill="#f7a21f"/><circle cx="537.22" cy="371.15" r="1.9" fill="#f7a21f"/><circle cx="537.75" cy="370.45" r="1.9" fill="#f7a21f"/><circle cx="538.63" cy="369.82" r="1.9" fill="#f7a21f"/><circle cx="539.17" cy="369.45" r="1.9" fill="#f7a21f"/><circle cx="540.01" cy="369.12" r="1.9" fill="#f7a21f"/><circle cx="540.95" cy="370.52" r="1.9" fill="#f7a21f"/><circle cx="541.77" cy="368.64" r="1.9" fill="#f7a21f"/><circle cx="542.7" cy="367.47" r="1.9" fill="#f7a21f"/><circle cx="543.35" cy="366.76" r="1.9" fill="#f7a21f"/><circle cx="544.22" cy="366.07" r="1.9" fill="#f7a21f"/><circle cx="545.34" cy="365.34" r="1.9" fill="#f7a21f"/><circle cx="546.16" cy="366.16" r="1.9" fill="#f7a21f"/><circle cx="547.01" cy="364.47" r="1.9" fill="#f7a21f"/><circle cx="548.12" cy="363.65" r="1.9" fill="#f7a21f"/><circle cx="548.89" cy="363.06" r="1.9" fill="#f7a21f"/><circle cx="549.92" cy="362.07" r="1.9" fill="#f7a21f"/><circle cx="550.96" cy="362.96" r="1.9" fill="#f7a21f"/><circle cx="552.01" cy="360.4" r="1.9" fill="#f7a21f"/><circle cx="552.82" cy="362.45" r="1.9" fill="#f7a21f"/><circle cx="553.99" cy="360.41" r="1.9" fill="#f7a21f"/><circle cx="555.08" cy="358.54" r="1.9" fill="#f7a21f"/><circle cx="556.08" cy="358.29" r="1.9" fill="#f7a21f"/><circle cx="557.13" cy="358.81" r="1.9" fill="#f7a21f"/><circle cx="558.3" cy="356.04" r="1.9" fill="#f7a21f"/><circle cx="559.39" cy="354.88" r="1.9" fill="#f7a21f"/><circle cx="560.75" cy="353.26" r="1.9" fill="#f7a21f"/><circle cx="561.64" cy="352.79" r="1.9" fill="#f7a21f"/><circle cx="562.86" cy="351.53" r="1.9" fill="#f7a21f"/><circle cx="563.82" cy="349.81" r="1.9" fill="#f7a21f"/><circle cx="565.21" cy="348.59" r="1.9" fill="#f7a21f"/><circle cx="566.68" cy="349.04" r="1.9" fill="#f7a21f"/><circle cx="567.66" cy="347.19" r="1.9" fill="#f7a21f"/><circle cx="568.94" cy="348.51" r="1.9" fill="#f7a21f"/><circle cx="570.41" cy="345.58" r="1.9" fill="#f7a21f"/><circle cx="571.61" cy="347.54" r="1.9" fill="#f7a21f"/><circle cx="573.02" cy="345.11" r="1.9" fill="#f7a21f"/><circle cx="574" cy="345.77" r="1.9" fill="#f7a21f"/><circle cx="575.6" cy="344.05" r="1.9" fill="#f7a21f"/><circle cx="576.96" cy="346.83" r="1.9" fill="#f7a21f"/><circle cx="578.27" cy="343.91" r="1.9" fill="#f7a21f"/><circle cx="579.84" cy="339.56" r="1.9" fill="#f7a21f"/><circle cx="581.31" cy="339.87" r="1.9" fill="#f7a21f"/><circle cx="582.7" cy="337.63" r="1.9" fill="#f7a21f"/><circle cx="584.27" cy="337.05" r="1.9" fill="#f7a21f"/><circle cx="585.7" cy="331.2" r="1.9" fill="#f7a21f"/><circle cx="587" cy="335.27" r="1.9" fill="#f7a21f"/><circle cx="588.73" cy="331.2" r="1.9" fill="#f7a21f"/><circle cx="590.42" cy="329.19" r="1.9" fill="#f7a21f"/><circle cx="591.67" cy="329.69" r="1.9" fill="#f7a21f"/><circle cx="593.29" cy="327" r="1.9" fill="#f7a21f"/><circle cx="594.94" cy="321.51" r="1.9" fill="#f7a21f"/><circle cx="596.93" cy="322.86" r="1.9" fill="#f7a21f"/><circle cx="598.42" cy="325.33" r="1.9" fill="#f7a21f"/><circle cx="600.17" cy="327.48" r="1.9" fill="#f7a21f"/><circle cx="601.85" cy="325.79" r="1.9" fill="#f7a21f"/><circle cx="603.51" cy="324.95" r="1.9" fill="#f7a21f"/><circle cx="605.29" cy="321.65" r="1.9" fill="#f7a21f"/><circle cx="606.95" cy="320.78" r="1.9" fill="#f7a21f"/><circle cx="608.88" cy="316.43" r="1.9" fill="#f7a21f"/><circle cx="610.63" cy="321.94" r="1.9" fill="#f7a21f"/><circle cx="612.09" cy="319.23" r="1.9" fill="#f7a21f"/><circle cx="613.82" cy="317.45" r="1.9" fill="#f7a21f"/><circle cx="615.65" cy="320.4" r="1.9" fill="#f7a21f"/><circle cx="617.56" cy="314.63" r="1.9" fill="#f7a21f"/><circle cx="619.13" cy="314.18" r="1.9" fill="#f7a21f"/><circle cx="620.97" cy="313.47" r="1.9" fill="#f7a21f"/><circle cx="622.59" cy="312.03" r="1.9" fill="#f7a21f"/><circle cx="624.54" cy="309.51" r="1.9" fill="#f7a21f"/><circle cx="626.16" cy="311.92" r="1.9" fill="#f7a21f"/><circle cx="627.89" cy="307.66" r="1.9" fill="#f7a21f"/><circle cx="629.72" cy="307.4" r="1.9" fill="#f7a21f"/><circle cx="631.32" cy="308.73" r="1.9" fill="#f7a21f"/><circle cx="633.24" cy="299.13" r="1.9" fill="#f7a21f"/><circle cx="634.94" cy="305.27" r="1.9" fill="#f7a21f"/><circle cx="636.37" cy="299.85" r="1.9" fill="#f7a21f"/><circle cx="638.08" cy="303.34" r="1.9" fill="#f7a21f"/><circle cx="639.96" cy="300.52" r="1.9" fill="#f7a21f"/><circle cx="641.83" cy="295.11" r="1.9" fill="#f7a21f"/><circle cx="643.41" cy="296.27" r="1.9" fill="#f7a21f"/><circle cx="645.05" cy="294.07" r="1.9" fill="#f7a21f"/><circle cx="647.11" cy="292.29" r="1.9" fill="#f7a21f"/><circle cx="648.83" cy="292.44" r="1.9" fill="#f7a21f"/><circle cx="650.66" cy="289.47" r="1.9" fill="#f7a21f"/><circle cx="652.15" cy="286.69" r="1.9" fill="#f7a21f"/><circle cx="654.14" cy="287.43" r="1.9" fill="#f7a21f"/><circle cx="655.51" cy="286.43" r="1.9" fill="#f7a21f"/><circle cx="657.55" cy="286.63" r="1.9" fill="#f7a21f"/><circle cx="659.26" cy="283.99" r="1.9" fill="#f7a21f"/><circle cx="660.97" cy="279.03" r="1.9" fill="#f7a21f"/><circle cx="662.37" cy="278.71" r="1.9" fill="#f7a21f"/><circle cx="664.41" cy="273.51" r="1.9" fill="#f7a21f"/><circle cx="666.22" cy="273.21" r="1.9" fill="#f7a21f"/><circle cx="667.74" cy="273.03" r="1.9" fill="#f7a21f"/><circle cx="669.36" cy="270.85" r="1.9" fill="#f7a21f"/><circle cx="671.3" cy="262.87" r="1.9" fill="#f7a21f"/><circle cx="672.77" cy="271.01" r="1.9" fill="#f7a21f"/><circle cx="674.92" cy="262.73" r="1.9" fill="#f7a21f"/><circle cx="676.41" cy="257.63" r="1.9" fill="#f7a21f"/><circle cx="521.17" cy="393.92" r="1.9" fill="#f7a21f"/><circle cx="597.63" cy="330.13" r="1.9" fill="#f7a21f"/><circle cx="617.02" cy="319.98" r="1.9" fill="#f7a21f"/><circle cx="636.42" cy="311.02" r="1.9" fill="#f7a21f"/><circle cx="633.58" cy="307.49" r="1.9" fill="#f7a21f"/><circle cx="649.5" cy="283.38" r="1.9" fill="#f7a21f"/><circle cx="663.85" cy="273.83" r="1.9" fill="#f7a21f"/><circle cx="678.98" cy="253.98" r="1.9" fill="#f7a21f"/><circle cx="675.51" cy="259.57" r="1.9" fill="#f7a21f"/><circle cx="602.68" cy="326.75" r="1.9" fill="#f7a21f"/><circle cx="576.19" cy="346.88" r="1.9" fill="#f7a21f"/><circle cx="648.4" cy="283.38" r="1.9" fill="#f7a21f"/>
<line x1="513.92" y1="401.42" x2="684.81" y2="242.07" stroke="#e8242c" stroke-width="1.15" stroke-dasharray="3.5 3.3"/>
<text x="28.6" y="454.6" font-size="14.5" font-weight="bold" text-anchor="end" fill="#111">g</text>
<path d="M54.35 469.2H58.35V616.2H54.35M54.35 586.8H58.35M54.35 557.4H58.35M54.35 528H58.35M54.35 498.6H58.35M64.7 626.4V622.4H222.35V626.4M96.23 622.4V626.4M127.76 622.4V626.4M159.29 622.4V626.4M190.82 622.4V626.4" stroke="#5c5c5c" stroke-width="1" fill="none"/>
<text x="50.25" y="619.7" font-size="9.6" text-anchor="end" fill="#2b2b2b">0</text>
<text x="64.7" y="637.8" font-size="9.6" text-anchor="middle" fill="#2b2b2b">0</text>
<text x="50.25" y="590.3" font-size="9.6" text-anchor="end" fill="#2b2b2b">0.2</text>
<text x="96.23" y="637.8" font-size="9.6" text-anchor="middle" fill="#2b2b2b">0.2</text>
<text x="50.25" y="560.9" font-size="9.6" text-anchor="end" fill="#2b2b2b">0.4</text>
<text x="127.76" y="637.8" font-size="9.6" text-anchor="middle" fill="#2b2b2b">0.4</text>
<text x="50.25" y="531.5" font-size="9.6" text-anchor="end" fill="#2b2b2b">0.6</text>
<text x="159.29" y="637.8" font-size="9.6" text-anchor="middle" fill="#2b2b2b">0.6</text>
<text x="50.25" y="502.1" font-size="9.6" text-anchor="end" fill="#2b2b2b">0.8</text>
<text x="190.82" y="637.8" font-size="9.6" text-anchor="middle" fill="#2b2b2b">0.8</text>
<text x="50.25" y="472.7" font-size="9.6" text-anchor="end" fill="#2b2b2b">1.0</text>
<text x="222.35" y="637.8" font-size="9.6" text-anchor="middle" fill="#2b2b2b">1.0</text>
<text x="143.53" y="653" font-size="9.9" text-anchor="middle" fill="#2b2b2b">PIP bin</text>
<text transform="translate(27.6,542.2) rotate(-90)" x="0" y="0" font-size="10" text-anchor="middle" fill="#2b2b2b">TDR in each PIP bin</text>
<text transform="translate(9.1,543.9) rotate(-90)" x="0" y="0" font-size="11.85" text-anchor="middle" fill="#2b2b2b">LDMS genetic architecture</text>
<circle cx="65.15" cy="615.92" r="1.9" fill="#23257a"/><circle cx="65.71" cy="615.2" r="1.9" fill="#23257a"/><circle cx="66.29" cy="614.63" r="1.9" fill="#23257a"/><circle cx="66.85" cy="614.06" r="1.9" fill="#23257a"/><circle cx="67.47" cy="613.44" r="1.9" fill="#23257a"/><circle cx="67.88" cy="612.99" r="1.9" fill="#23257a"/><circle cx="68.35" cy="612.28" r="1.9" fill="#23257a"/><circle cx="68.89" cy="612.07" r="1.9" fill="#23257a"/><circle cx="69.91" cy="611.02" r="1.9" fill="#23257a"/><circle cx="70.32" cy="610.78" r="1.9" fill="#23257a"/><circle cx="70.68" cy="609.93" r="1.9" fill="#23257a"/><circle cx="71.21" cy="609.58" r="1.9" fill="#23257a"/><circle cx="71.86" cy="609.04" r="1.9" fill="#23257a"/><circle cx="72.58" cy="608.42" r="1.9" fill="#23257a"/><circle cx="73.16" cy="607.77" r="1.9" fill="#23257a"/><circle cx="73.85" cy="607.54" r="1.9" fill="#23257a"/><circle cx="74.38" cy="606.88" r="1.9" fill="#23257a"/><circle cx="74.87" cy="606.38" r="1.9" fill="#23257a"/><circle cx="75.82" cy="605.19" r="1.9" fill="#23257a"/><circle cx="76.29" cy="605.03" r="1.9" fill="#23257a"/><circle cx="76.71" cy="604.41" r="1.9" fill="#23257a"/><circle cx="77.21" cy="603.66" r="1.9" fill="#23257a"/><circle cx="78.15" cy="603.62" r="1.9" fill="#23257a"/><circle cx="78.59" cy="602.4" r="1.9" fill="#23257a"/><circle cx="79.48" cy="602.06" r="1.9" fill="#23257a"/><circle cx="79.75" cy="601.47" r="1.9" fill="#23257a"/><circle cx="80.71" cy="601.54" r="1.9" fill="#23257a"/><circle cx="81.1" cy="600.14" r="1.9" fill="#23257a"/><circle cx="81.58" cy="599.99" r="1.9" fill="#23257a"/><circle cx="82.31" cy="599.41" r="1.9" fill="#23257a"/><circle cx="82.87" cy="598.83" r="1.9" fill="#23257a"/><circle cx="83.83" cy="597.3" r="1.9" fill="#23257a"/><circle cx="84.17" cy="597.29" r="1.9" fill="#23257a"/><circle cx="84.79" cy="596.56" r="1.9" fill="#23257a"/><circle cx="85.79" cy="595.92" r="1.9" fill="#23257a"/><circle cx="86.29" cy="595.14" r="1.9" fill="#23257a"/><circle cx="86.82" cy="594.86" r="1.9" fill="#23257a"/><circle cx="87.7" cy="594.38" r="1.9" fill="#23257a"/><circle cx="88.12" cy="593.78" r="1.9" fill="#23257a"/><circle cx="88.86" cy="592.88" r="1.9" fill="#23257a"/><circle cx="89.87" cy="592.27" r="1.9" fill="#23257a"/><circle cx="90.5" cy="591.97" r="1.9" fill="#23257a"/><circle cx="90.86" cy="591.57" r="1.9" fill="#23257a"/><circle cx="91.75" cy="590.07" r="1.9" fill="#23257a"/><circle cx="92.18" cy="589.59" r="1.9" fill="#23257a"/><circle cx="92.95" cy="589.18" r="1.9" fill="#23257a"/><circle cx="93.88" cy="588.65" r="1.9" fill="#23257a"/><circle cx="94.25" cy="587.63" r="1.9" fill="#23257a"/><circle cx="94.96" cy="587.44" r="1.9" fill="#23257a"/><circle cx="95.9" cy="586.69" r="1.9" fill="#23257a"/><circle cx="96.5" cy="586.76" r="1.9" fill="#23257a"/><circle cx="97.27" cy="585.04" r="1.9" fill="#23257a"/><circle cx="98.02" cy="584.52" r="1.9" fill="#23257a"/><circle cx="98.54" cy="584.21" r="1.9" fill="#23257a"/><circle cx="99.62" cy="583.3" r="1.9" fill="#23257a"/><circle cx="100.01" cy="583.03" r="1.9" fill="#23257a"/><circle cx="101" cy="581.91" r="1.9" fill="#23257a"/><circle cx="101.83" cy="581.58" r="1.9" fill="#23257a"/><circle cx="102.53" cy="581.16" r="1.9" fill="#23257a"/><circle cx="102.9" cy="580.44" r="1.9" fill="#23257a"/><circle cx="103.62" cy="579.27" r="1.9" fill="#23257a"/><circle cx="104.68" cy="578.96" r="1.9" fill="#23257a"/><circle cx="105.22" cy="577.99" r="1.9" fill="#23257a"/><circle cx="105.99" cy="578.06" r="1.9" fill="#23257a"/><circle cx="106.69" cy="576.93" r="1.9" fill="#23257a"/><circle cx="107.48" cy="576.39" r="1.9" fill="#23257a"/><circle cx="108.4" cy="575.22" r="1.9" fill="#23257a"/><circle cx="109.04" cy="575.36" r="1.9" fill="#23257a"/><circle cx="110.12" cy="574.19" r="1.9" fill="#23257a"/><circle cx="110.59" cy="573.45" r="1.9" fill="#23257a"/><circle cx="111.45" cy="572.59" r="1.9" fill="#23257a"/><circle cx="112.2" cy="572.06" r="1.9" fill="#23257a"/><circle cx="113.13" cy="571.15" r="1.9" fill="#23257a"/><circle cx="114.23" cy="570.28" r="1.9" fill="#23257a"/><circle cx="115.37" cy="570.41" r="1.9" fill="#23257a"/><circle cx="116.44" cy="569.81" r="1.9" fill="#23257a"/><circle cx="117.68" cy="567.41" r="1.9" fill="#23257a"/><circle cx="119.72" cy="566.17" r="1.9" fill="#23257a"/><circle cx="121.53" cy="563.21" r="1.9" fill="#23257a"/><circle cx="123.71" cy="561.37" r="1.9" fill="#23257a"/><circle cx="126.17" cy="560.06" r="1.9" fill="#23257a"/><circle cx="129.33" cy="559.06" r="1.9" fill="#23257a"/><circle cx="132.05" cy="558.22" r="1.9" fill="#23257a"/><circle cx="135.59" cy="553.03" r="1.9" fill="#23257a"/><circle cx="138.67" cy="549.82" r="1.9" fill="#23257a"/><circle cx="141.9" cy="547.61" r="1.9" fill="#23257a"/><circle cx="144.79" cy="543.78" r="1.9" fill="#23257a"/><circle cx="148.19" cy="543.64" r="1.9" fill="#23257a"/><circle cx="151.13" cy="536.28" r="1.9" fill="#23257a"/><circle cx="154.35" cy="539.22" r="1.9" fill="#23257a"/><circle cx="157.53" cy="536.23" r="1.9" fill="#23257a"/><circle cx="160.68" cy="528.84" r="1.9" fill="#23257a"/><circle cx="163.58" cy="530.15" r="1.9" fill="#23257a"/><circle cx="167.11" cy="529.44" r="1.9" fill="#23257a"/><circle cx="170.19" cy="522.89" r="1.9" fill="#23257a"/><circle cx="173.28" cy="514.73" r="1.9" fill="#23257a"/><circle cx="176.36" cy="512.37" r="1.9" fill="#23257a"/><circle cx="179.66" cy="510.02" r="1.9" fill="#23257a"/><circle cx="182.47" cy="506.88" r="1.9" fill="#23257a"/><circle cx="185.72" cy="504.14" r="1.9" fill="#23257a"/><circle cx="189.1" cy="504.35" r="1.9" fill="#23257a"/><circle cx="192.35" cy="504.19" r="1.9" fill="#23257a"/><circle cx="195.19" cy="501.2" r="1.9" fill="#23257a"/><circle cx="198.55" cy="497.09" r="1.9" fill="#23257a"/><circle cx="201.47" cy="490.32" r="1.9" fill="#23257a"/><circle cx="204.84" cy="484.91" r="1.9" fill="#23257a"/><circle cx="207.89" cy="486.89" r="1.9" fill="#23257a"/><circle cx="211.15" cy="487.66" r="1.9" fill="#23257a"/><circle cx="214.08" cy="484.64" r="1.9" fill="#23257a"/><circle cx="217.58" cy="476.6" r="1.9" fill="#23257a"/><circle cx="220.71" cy="477.5" r="1.9" fill="#23257a"/><circle cx="120.98" cy="566.81" r="1.9" fill="#23257a"/><circle cx="122.24" cy="563.72" r="1.9" fill="#23257a"/><circle cx="124.13" cy="560.05" r="1.9" fill="#23257a"/><circle cx="125.55" cy="561.37" r="1.9" fill="#23257a"/><circle cx="127.29" cy="558.13" r="1.9" fill="#23257a"/><circle cx="130.12" cy="555.93" r="1.9" fill="#23257a"/><circle cx="132.8" cy="557.25" r="1.9" fill="#23257a"/><circle cx="134.7" cy="553.14" r="1.9" fill="#23257a"/><circle cx="136.12" cy="550.79" r="1.9" fill="#23257a"/><circle cx="137.85" cy="548.58" r="1.9" fill="#23257a"/><circle cx="140.21" cy="549.02" r="1.9" fill="#23257a"/><circle cx="142.58" cy="539.76" r="1.9" fill="#23257a"/><circle cx="144.31" cy="544.91" r="1.9" fill="#23257a"/><circle cx="146.21" cy="542.55" r="1.9" fill="#23257a"/><circle cx="147.47" cy="538.44" r="1.9" fill="#23257a"/><circle cx="149.36" cy="540.35" r="1.9" fill="#23257a"/><circle cx="151.72" cy="537.56" r="1.9" fill="#23257a"/><circle cx="152.2" cy="534.32" r="1.9" fill="#23257a"/><circle cx="153.93" cy="537.56" r="1.9" fill="#23257a"/><circle cx="155.35" cy="531.09" r="1.9" fill="#23257a"/><circle cx="156.77" cy="541.23" r="1.9" fill="#23257a"/><circle cx="158.5" cy="530.65" r="1.9" fill="#23257a"/><circle cx="160.39" cy="531.97" r="1.9" fill="#23257a"/><circle cx="161.81" cy="531.09" r="1.9" fill="#23257a"/><circle cx="163.07" cy="522.41" r="1.9" fill="#23257a"/><circle cx="164.97" cy="525.65" r="1.9" fill="#23257a"/><circle cx="167.8" cy="527.41" r="1.9" fill="#23257a"/><circle cx="169.54" cy="523.3" r="1.9" fill="#23257a"/><circle cx="171.43" cy="520.65" r="1.9" fill="#23257a"/><circle cx="172.85" cy="514.18" r="1.9" fill="#23257a"/><circle cx="174.58" cy="516.98" r="1.9" fill="#23257a"/><circle cx="176.95" cy="512.86" r="1.9" fill="#23257a"/><circle cx="178.68" cy="511.83" r="1.9" fill="#23257a"/><circle cx="171.43" cy="520.36" r="1.9" fill="#23257a"/><circle cx="172.85" cy="513.89" r="1.9" fill="#23257a"/><circle cx="174.11" cy="516.98" r="1.9" fill="#23257a"/><circle cx="176.95" cy="511.1" r="1.9" fill="#23257a"/><circle cx="180.57" cy="513.45" r="1.9" fill="#23257a"/><circle cx="178.68" cy="503.75" r="1.9" fill="#23257a"/><circle cx="182.46" cy="503.3" r="1.9" fill="#23257a"/><circle cx="183.88" cy="502.86" r="1.9" fill="#23257a"/><circle cx="185.14" cy="499.63" r="1.9" fill="#23257a"/><circle cx="186.56" cy="511.54" r="1.9" fill="#23257a"/><circle cx="188.3" cy="493.75" r="1.9" fill="#23257a"/><circle cx="189.72" cy="501.39" r="1.9" fill="#23257a"/><circle cx="191.61" cy="508.3" r="1.9" fill="#23257a"/><circle cx="193.5" cy="504.19" r="1.9" fill="#23257a"/><circle cx="194.92" cy="505.22" r="1.9" fill="#23257a"/><circle cx="196.65" cy="501.39" r="1.9" fill="#23257a"/><circle cx="198.07" cy="495.51" r="1.9" fill="#23257a"/><circle cx="199.81" cy="493.75" r="1.9" fill="#23257a"/><circle cx="202.64" cy="494.19" r="1.9" fill="#23257a"/><circle cx="203.9" cy="484.93" r="1.9" fill="#23257a"/><circle cx="206.74" cy="485.52" r="1.9" fill="#23257a"/><circle cx="209.11" cy="490.52" r="1.9" fill="#23257a"/><circle cx="210.37" cy="491.4" r="1.9" fill="#23257a"/><circle cx="212.26" cy="481.84" r="1.9" fill="#23257a"/><circle cx="213.68" cy="483.17" r="1.9" fill="#23257a"/><circle cx="215.41" cy="479.05" r="1.9" fill="#23257a"/><circle cx="216.83" cy="481.4" r="1.9" fill="#23257a"/><circle cx="218.25" cy="473.02" r="1.9" fill="#23257a"/><circle cx="219.99" cy="476.26" r="1.9" fill="#23257a"/><circle cx="223.3" cy="474.49" r="1.9" fill="#23257a"/>
<line x1="57.92" y1="622.52" x2="228.81" y2="463.17" stroke="#e8242c" stroke-width="1.15" stroke-dasharray="3.5 3.3"/>
<text x="253.6" y="454.6" font-size="14.5" font-weight="bold" text-anchor="end" fill="#111">h</text>
<path d="M282.75 469.2H286.75V616.2H282.75M282.75 586.8H286.75M282.75 557.4H286.75M282.75 528H286.75M282.75 498.6H286.75M293.1 626.4V622.4H450.75V626.4M324.63 622.4V626.4M356.16 622.4V626.4M387.69 622.4V626.4M419.22 622.4V626.4" stroke="#5c5c5c" stroke-width="1" fill="none"/>
<text x="278.65" y="619.7" font-size="9.6" text-anchor="end" fill="#2b2b2b">0</text>
<text x="293.1" y="637.8" font-size="9.6" text-anchor="middle" fill="#2b2b2b">0</text>
<text x="278.65" y="590.3" font-size="9.6" text-anchor="end" fill="#2b2b2b">0.2</text>
<text x="324.63" y="637.8" font-size="9.6" text-anchor="middle" fill="#2b2b2b">0.2</text>
<text x="278.65" y="560.9" font-size="9.6" text-anchor="end" fill="#2b2b2b">0.4</text>
<text x="356.16" y="637.8" font-size="9.6" text-anchor="middle" fill="#2b2b2b">0.4</text>
<text x="278.65" y="531.5" font-size="9.6" text-anchor="end" fill="#2b2b2b">0.6</text>
<text x="387.69" y="637.8" font-size="9.6" text-anchor="middle" fill="#2b2b2b">0.6</text>
<text x="278.65" y="502.1" font-size="9.6" text-anchor="end" fill="#2b2b2b">0.8</text>
<text x="419.22" y="637.8" font-size="9.6" text-anchor="middle" fill="#2b2b2b">0.8</text>
<text x="278.65" y="472.7" font-size="9.6" text-anchor="end" fill="#2b2b2b">1.0</text>
<text x="450.75" y="637.8" font-size="9.6" text-anchor="middle" fill="#2b2b2b">1.0</text>
<text x="371.93" y="653" font-size="9.9" text-anchor="middle" fill="#2b2b2b">PIP bin</text>
<text transform="translate(253.6,542.2) rotate(-90)" x="0" y="0" font-size="10" text-anchor="middle" fill="#2b2b2b">TDR in each PIP bin</text>
<circle cx="300.66" cy="600.77" r="1.9" fill="#5ab446"/><circle cx="301.62" cy="599.71" r="1.9" fill="#5ab446"/><circle cx="302.69" cy="598.23" r="1.9" fill="#5ab446"/><circle cx="304.21" cy="596.53" r="1.9" fill="#5ab446"/><circle cx="305.32" cy="595.9" r="1.9" fill="#5ab446"/><circle cx="306.48" cy="595.01" r="1.9" fill="#5ab446"/><circle cx="307.43" cy="594.13" r="1.9" fill="#5ab446"/><circle cx="308.99" cy="592.98" r="1.9" fill="#5ab446"/><circle cx="309.81" cy="592.23" r="1.9" fill="#5ab446"/><circle cx="311.35" cy="591.7" r="1.9" fill="#5ab446"/><circle cx="312.43" cy="591.51" r="1.9" fill="#5ab446"/><circle cx="313.55" cy="589.28" r="1.9" fill="#5ab446"/><circle cx="314.85" cy="588.25" r="1.9" fill="#5ab446"/><circle cx="316.17" cy="588.01" r="1.9" fill="#5ab446"/><circle cx="317.91" cy="586.28" r="1.9" fill="#5ab446"/><circle cx="318.97" cy="585.37" r="1.9" fill="#5ab446"/><circle cx="320.18" cy="584.31" r="1.9" fill="#5ab446"/><circle cx="321.56" cy="582.23" r="1.9" fill="#5ab446"/><circle cx="323.2" cy="581.66" r="1.9" fill="#5ab446"/><circle cx="324.65" cy="581.17" r="1.9" fill="#5ab446"/><circle cx="325.88" cy="581.31" r="1.9" fill="#5ab446"/><circle cx="327.42" cy="579.06" r="1.9" fill="#5ab446"/><circle cx="328.99" cy="576.88" r="1.9" fill="#5ab446"/><circle cx="331" cy="576.37" r="1.9" fill="#5ab446"/><circle cx="332.85" cy="575.97" r="1.9" fill="#5ab446"/><circle cx="334.54" cy="575.12" r="1.9" fill="#5ab446"/><circle cx="336.81" cy="573.08" r="1.9" fill="#5ab446"/><circle cx="338.86" cy="571.65" r="1.9" fill="#5ab446"/><circle cx="341.34" cy="571.4" r="1.9" fill="#5ab446"/><circle cx="343.93" cy="568.09" r="1.9" fill="#5ab446"/><circle cx="346.23" cy="567.28" r="1.9" fill="#5ab446"/><circle cx="348.98" cy="568.09" r="1.9" fill="#5ab446"/><circle cx="351.37" cy="566.84" r="1.9" fill="#5ab446"/><circle cx="354.15" cy="562.48" r="1.9" fill="#5ab446"/><circle cx="356.35" cy="558.11" r="1.9" fill="#5ab446"/><circle cx="359.16" cy="556.75" r="1.9" fill="#5ab446"/><circle cx="361.37" cy="555.34" r="1.9" fill="#5ab446"/><circle cx="364.17" cy="551.85" r="1.9" fill="#5ab446"/><circle cx="366.42" cy="551.7" r="1.9" fill="#5ab446"/><circle cx="369.05" cy="547.06" r="1.9" fill="#5ab446"/><circle cx="371.67" cy="542.54" r="1.9" fill="#5ab446"/><circle cx="294.83" cy="613.85" r="1.9" fill="#5ab446"/><circle cx="296.88" cy="608.85" r="1.9" fill="#5ab446"/><circle cx="298.46" cy="604.59" r="1.9" fill="#5ab446"/><circle cx="375.87" cy="541.08" r="1.9" fill="#5ab446"/><circle cx="378.86" cy="543.29" r="1.9" fill="#5ab446"/><circle cx="371.45" cy="545.35" r="1.9" fill="#5ab446"/><circle cx="375.55" cy="541.23" r="1.9" fill="#5ab446"/><circle cx="380.28" cy="544.02" r="1.9" fill="#5ab446"/><circle cx="386.59" cy="535.06" r="1.9" fill="#5ab446"/><circle cx="388.01" cy="546.67" r="1.9" fill="#5ab446"/><circle cx="391.32" cy="537.11" r="1.9" fill="#5ab446"/><circle cx="394.15" cy="539.17" r="1.9" fill="#5ab446"/><circle cx="395.57" cy="541.97" r="1.9" fill="#5ab446"/><circle cx="397.46" cy="531.68" r="1.9" fill="#5ab446"/><circle cx="398.88" cy="524.03" r="1.9" fill="#5ab446"/><circle cx="401.09" cy="536.38" r="1.9" fill="#5ab446"/><circle cx="403.77" cy="541.97" r="1.9" fill="#5ab446"/><circle cx="406.45" cy="527.41" r="1.9" fill="#5ab446"/><circle cx="408.5" cy="520.5" r="1.9" fill="#5ab446"/><circle cx="409.92" cy="524.77" r="1.9" fill="#5ab446"/><circle cx="411.97" cy="514.48" r="1.9" fill="#5ab446"/><circle cx="413.39" cy="508.89" r="1.9" fill="#5ab446"/><circle cx="414.81" cy="524.03" r="1.9" fill="#5ab446"/><circle cx="416.86" cy="519.18" r="1.9" fill="#5ab446"/><circle cx="418.27" cy="515.65" r="1.9" fill="#5ab446"/><circle cx="419.54" cy="507.57" r="1.9" fill="#5ab446"/><circle cx="421.58" cy="513.74" r="1.9" fill="#5ab446"/><circle cx="423" cy="522.56" r="1.9" fill="#5ab446"/><circle cx="424.42" cy="529.47" r="1.9" fill="#5ab446"/><circle cx="426.47" cy="518.45" r="1.9" fill="#5ab446"/><circle cx="427.89" cy="517.12" r="1.9" fill="#5ab446"/><circle cx="429.31" cy="512.27" r="1.9" fill="#5ab446"/><circle cx="433.41" cy="506.83" r="1.9" fill="#5ab446"/><circle cx="432.62" cy="499.19" r="1.9" fill="#5ab446"/><circle cx="437.51" cy="507.57" r="1.9" fill="#5ab446"/><circle cx="440.19" cy="504.77" r="1.9" fill="#5ab446"/><circle cx="445.07" cy="502.72" r="1.9" fill="#5ab446"/><circle cx="443.03" cy="486.84" r="1.9" fill="#5ab446"/><circle cx="447.12" cy="484.93" r="1.9" fill="#5ab446"/><circle cx="451.22" cy="482.72" r="1.9" fill="#5ab446"/><circle cx="295.35" cy="599.04" r="1.9" fill="#e6192a"/><circle cx="296.53" cy="598.59" r="1.9" fill="#e6192a"/><circle cx="297.12" cy="597.39" r="1.9" fill="#e6192a"/><circle cx="298.06" cy="596.64" r="1.9" fill="#e6192a"/><circle cx="299.23" cy="596.06" r="1.9" fill="#e6192a"/><circle cx="299.93" cy="595.56" r="1.9" fill="#e6192a"/><circle cx="300.92" cy="596.04" r="1.9" fill="#e6192a"/><circle cx="302.03" cy="594.49" r="1.9" fill="#e6192a"/><circle cx="302.73" cy="594.1" r="1.9" fill="#e6192a"/><circle cx="304.13" cy="593.12" r="1.9" fill="#e6192a"/><circle cx="305.1" cy="592.34" r="1.9" fill="#e6192a"/><circle cx="306.08" cy="592.54" r="1.9" fill="#e6192a"/><circle cx="307.21" cy="590.92" r="1.9" fill="#e6192a"/><circle cx="308.2" cy="590.52" r="1.9" fill="#e6192a"/><circle cx="309.08" cy="589.35" r="1.9" fill="#e6192a"/><circle cx="310.12" cy="589.24" r="1.9" fill="#e6192a"/><circle cx="311.17" cy="588.3" r="1.9" fill="#e6192a"/><circle cx="312.15" cy="587.04" r="1.9" fill="#e6192a"/><circle cx="313.59" cy="586.08" r="1.9" fill="#e6192a"/><circle cx="314.65" cy="587.18" r="1.9" fill="#e6192a"/><circle cx="315.72" cy="585.1" r="1.9" fill="#e6192a"/><circle cx="316.93" cy="584.63" r="1.9" fill="#e6192a"/><circle cx="317.98" cy="583.04" r="1.9" fill="#e6192a"/><circle cx="319.2" cy="581.65" r="1.9" fill="#e6192a"/><circle cx="320.26" cy="580.69" r="1.9" fill="#e6192a"/><circle cx="321.54" cy="579.08" r="1.9" fill="#e6192a"/><circle cx="322.64" cy="579.46" r="1.9" fill="#e6192a"/><circle cx="323.93" cy="578.77" r="1.9" fill="#e6192a"/><circle cx="325.16" cy="578.59" r="1.9" fill="#e6192a"/><circle cx="326.68" cy="577.79" r="1.9" fill="#e6192a"/><circle cx="328.2" cy="577.45" r="1.9" fill="#e6192a"/><circle cx="329.65" cy="573.29" r="1.9" fill="#e6192a"/><circle cx="330.78" cy="572.23" r="1.9" fill="#e6192a"/><circle cx="332.8" cy="570.96" r="1.9" fill="#e6192a"/><circle cx="334.45" cy="570.34" r="1.9" fill="#e6192a"/><circle cx="336.4" cy="568.5" r="1.9" fill="#e6192a"/><circle cx="338.37" cy="567.51" r="1.9" fill="#e6192a"/><circle cx="340.43" cy="567.28" r="1.9" fill="#e6192a"/><circle cx="342.4" cy="565.86" r="1.9" fill="#e6192a"/><circle cx="344.89" cy="563.85" r="1.9" fill="#e6192a"/><circle cx="346.92" cy="561.36" r="1.9" fill="#e6192a"/><circle cx="349.14" cy="562.53" r="1.9" fill="#e6192a"/><circle cx="351.33" cy="562.46" r="1.9" fill="#e6192a"/><circle cx="353.6" cy="558.79" r="1.9" fill="#e6192a"/><circle cx="355.63" cy="553.84" r="1.9" fill="#e6192a"/><circle cx="358" cy="551.7" r="1.9" fill="#e6192a"/><circle cx="359.93" cy="553.13" r="1.9" fill="#e6192a"/><circle cx="362.39" cy="552.27" r="1.9" fill="#e6192a"/><circle cx="364.56" cy="551.19" r="1.9" fill="#e6192a"/><circle cx="366.71" cy="547.18" r="1.9" fill="#e6192a"/><circle cx="368.87" cy="544.04" r="1.9" fill="#e6192a"/><circle cx="371.39" cy="543" r="1.9" fill="#e6192a"/><circle cx="293.42" cy="615.17" r="1.9" fill="#e6192a"/><circle cx="341.5" cy="570.48" r="1.9" fill="#e6192a"/><circle cx="350.64" cy="564.02" r="1.9" fill="#e6192a"/><circle cx="364.36" cy="557.11" r="1.9" fill="#e6192a"/><circle cx="371.29" cy="551.37" r="1.9" fill="#e6192a"/><circle cx="374.29" cy="552.11" r="1.9" fill="#e6192a"/><circle cx="377.44" cy="547.26" r="1.9" fill="#e6192a"/><circle cx="378.55" cy="533.88" r="1.9" fill="#e6192a"/><circle cx="379.65" cy="540.35" r="1.9" fill="#e6192a"/><circle cx="365.93" cy="546.38" r="1.9" fill="#e6192a"/><circle cx="369.88" cy="542.55" r="1.9" fill="#e6192a"/><circle cx="372.87" cy="542.55" r="1.9" fill="#e6192a"/><circle cx="375.87" cy="542.55" r="1.9" fill="#e6192a"/><circle cx="371.45" cy="542.55" r="1.9" fill="#e6192a"/><circle cx="375.55" cy="542.55" r="1.9" fill="#e6192a"/><circle cx="376.97" cy="547.4" r="1.9" fill="#e6192a"/><circle cx="379.02" cy="534.32" r="1.9" fill="#e6192a"/><circle cx="382.49" cy="533.59" r="1.9" fill="#e6192a"/><circle cx="380.28" cy="540.5" r="1.9" fill="#e6192a"/><circle cx="383.91" cy="539.47" r="1.9" fill="#e6192a"/><circle cx="386.59" cy="543.29" r="1.9" fill="#e6192a"/><circle cx="385.17" cy="548.14" r="1.9" fill="#e6192a"/><circle cx="388.64" cy="539.17" r="1.9" fill="#e6192a"/><circle cx="390.05" cy="535.06" r="1.9" fill="#e6192a"/><circle cx="391.32" cy="530.21" r="1.9" fill="#e6192a"/><circle cx="393.37" cy="543.29" r="1.9" fill="#e6192a"/><circle cx="394.78" cy="546.67" r="1.9" fill="#e6192a"/><circle cx="396.2" cy="533.59" r="1.9" fill="#e6192a"/><circle cx="397.46" cy="526.09" r="1.9" fill="#e6192a"/><circle cx="399.67" cy="530.21" r="1.9" fill="#e6192a"/><circle cx="401.09" cy="545.35" r="1.9" fill="#e6192a"/><circle cx="402.35" cy="533.59" r="1.9" fill="#e6192a"/><circle cx="404.4" cy="535.06" r="1.9" fill="#e6192a"/><circle cx="405.82" cy="529.47" r="1.9" fill="#e6192a"/><circle cx="407.24" cy="523.3" r="1.9" fill="#e6192a"/><circle cx="408.5" cy="513.74" r="1.9" fill="#e6192a"/><circle cx="410.71" cy="521.97" r="1.9" fill="#e6192a"/><circle cx="411.97" cy="511.68" r="1.9" fill="#e6192a"/><circle cx="413.39" cy="521.24" r="1.9" fill="#e6192a"/><circle cx="414.81" cy="514.48" r="1.9" fill="#e6192a"/><circle cx="416.86" cy="508.3" r="1.9" fill="#e6192a"/><circle cx="418.27" cy="523.3" r="1.9" fill="#e6192a"/><circle cx="419.54" cy="504.77" r="1.9" fill="#e6192a"/><circle cx="421.58" cy="510.21" r="1.9" fill="#e6192a"/><circle cx="423" cy="508.89" r="1.9" fill="#e6192a"/><circle cx="425.05" cy="515.06" r="1.9" fill="#e6192a"/><circle cx="426.47" cy="515.65" r="1.9" fill="#e6192a"/><circle cx="427.89" cy="521.97" r="1.9" fill="#e6192a"/><circle cx="429.31" cy="498.6" r="1.9" fill="#e6192a"/><circle cx="430.57" cy="502.72" r="1.9" fill="#e6192a"/><circle cx="432.62" cy="496.54" r="1.9" fill="#e6192a"/><circle cx="434.04" cy="495.81" r="1.9" fill="#e6192a"/><circle cx="435.46" cy="502.13" r="1.9" fill="#e6192a"/><circle cx="437.51" cy="510.95" r="1.9" fill="#e6192a"/><circle cx="438.93" cy="499.19" r="1.9" fill="#e6192a"/><circle cx="440.19" cy="508.3" r="1.9" fill="#e6192a"/><circle cx="441.61" cy="500.66" r="1.9" fill="#e6192a"/><circle cx="443.66" cy="498.6" r="1.9" fill="#e6192a"/><circle cx="445.07" cy="491.1" r="1.9" fill="#e6192a"/><circle cx="446.49" cy="487.58" r="1.9" fill="#e6192a"/><circle cx="447.75" cy="483.46" r="1.9" fill="#e6192a"/><circle cx="451.22" cy="481.84" r="1.9" fill="#e6192a"/>
<line x1="286.32" y1="622.52" x2="457.21" y2="463.17" stroke="#e8242c" stroke-width="1.15" stroke-dasharray="3.5 3.3"/>
<text x="479" y="454.6" font-size="14.5" font-weight="bold" text-anchor="end" fill="#111">i</text>
<path d="M509.45 469.2H513.45V616.2H509.45M509.45 586.8H513.45M509.45 557.4H513.45M509.45 528H513.45M509.45 498.6H513.45M519.8 626.4V622.4H677.45V626.4M551.33 622.4V626.4M582.86 622.4V626.4M614.39 622.4V626.4M645.92 622.4V626.4" stroke="#5c5c5c" stroke-width="1" fill="none"/>
<text x="505.35" y="619.7" font-size="9.6" text-anchor="end" fill="#2b2b2b">0</text>
<text x="519.8" y="637.8" font-size="9.6" text-anchor="middle" fill="#2b2b2b">0</text>
<text x="505.35" y="590.3" font-size="9.6" text-anchor="end" fill="#2b2b2b">0.2</text>
<text x="551.33" y="637.8" font-size="9.6" text-anchor="middle" fill="#2b2b2b">0.2</text>
<text x="505.35" y="560.9" font-size="9.6" text-anchor="end" fill="#2b2b2b">0.4</text>
<text x="582.86" y="637.8" font-size="9.6" text-anchor="middle" fill="#2b2b2b">0.4</text>
<text x="505.35" y="531.5" font-size="9.6" text-anchor="end" fill="#2b2b2b">0.6</text>
<text x="614.39" y="637.8" font-size="9.6" text-anchor="middle" fill="#2b2b2b">0.6</text>
<text x="505.35" y="502.1" font-size="9.6" text-anchor="end" fill="#2b2b2b">0.8</text>
<text x="645.92" y="637.8" font-size="9.6" text-anchor="middle" fill="#2b2b2b">0.8</text>
<text x="505.35" y="472.7" font-size="9.6" text-anchor="end" fill="#2b2b2b">1.0</text>
<text x="677.45" y="637.8" font-size="9.6" text-anchor="middle" fill="#2b2b2b">1.0</text>
<text x="598.62" y="653" font-size="9.9" text-anchor="middle" fill="#2b2b2b">PIP bin</text>
<text transform="translate(483.6,542.2) rotate(-90)" x="0" y="0" font-size="10" text-anchor="middle" fill="#2b2b2b">TDR in each PIP bin</text>
<circle cx="521.03" cy="611.98" r="1.9" fill="#2e4ea3"/><circle cx="522.08" cy="611.27" r="1.9" fill="#2e4ea3"/><circle cx="522.42" cy="609.48" r="1.9" fill="#2e4ea3"/><circle cx="523.28" cy="607.5" r="1.9" fill="#2e4ea3"/><circle cx="523.79" cy="607.25" r="1.9" fill="#2e4ea3"/><circle cx="524.71" cy="606.3" r="1.9" fill="#2e4ea3"/><circle cx="525.1" cy="604.83" r="1.9" fill="#2e4ea3"/><circle cx="525.93" cy="603.08" r="1.9" fill="#2e4ea3"/><circle cx="526.6" cy="603.03" r="1.9" fill="#2e4ea3"/><circle cx="527.28" cy="603.06" r="1.9" fill="#2e4ea3"/><circle cx="528.22" cy="601.64" r="1.9" fill="#2e4ea3"/><circle cx="529.02" cy="600.9" r="1.9" fill="#2e4ea3"/><circle cx="529.54" cy="600.13" r="1.9" fill="#2e4ea3"/><circle cx="530.36" cy="599.2" r="1.9" fill="#2e4ea3"/><circle cx="531.52" cy="600.13" r="1.9" fill="#2e4ea3"/><circle cx="532.06" cy="597.15" r="1.9" fill="#2e4ea3"/><circle cx="532.96" cy="596.86" r="1.9" fill="#2e4ea3"/><circle cx="533.55" cy="597.42" r="1.9" fill="#2e4ea3"/><circle cx="534.62" cy="596.36" r="1.9" fill="#2e4ea3"/><circle cx="535.24" cy="595.71" r="1.9" fill="#2e4ea3"/><circle cx="536.47" cy="595.23" r="1.9" fill="#2e4ea3"/><circle cx="537.15" cy="594.29" r="1.9" fill="#2e4ea3"/><circle cx="537.93" cy="593.44" r="1.9" fill="#2e4ea3"/><circle cx="538.78" cy="593.75" r="1.9" fill="#2e4ea3"/><circle cx="540.04" cy="592.01" r="1.9" fill="#2e4ea3"/><circle cx="540.59" cy="591.54" r="1.9" fill="#2e4ea3"/><circle cx="541.88" cy="590.59" r="1.9" fill="#2e4ea3"/><circle cx="542.53" cy="590.02" r="1.9" fill="#2e4ea3"/><circle cx="543.69" cy="590.22" r="1.9" fill="#2e4ea3"/><circle cx="544.66" cy="590" r="1.9" fill="#2e4ea3"/><circle cx="545.68" cy="589.42" r="1.9" fill="#2e4ea3"/><circle cx="546.52" cy="587.56" r="1.9" fill="#2e4ea3"/><circle cx="547.73" cy="587.12" r="1.9" fill="#2e4ea3"/><circle cx="549" cy="585.15" r="1.9" fill="#2e4ea3"/><circle cx="549.65" cy="585.18" r="1.9" fill="#2e4ea3"/><circle cx="550.97" cy="584.28" r="1.9" fill="#2e4ea3"/><circle cx="551.81" cy="584.97" r="1.9" fill="#2e4ea3"/><circle cx="553.14" cy="585.52" r="1.9" fill="#2e4ea3"/><circle cx="554.31" cy="584.67" r="1.9" fill="#2e4ea3"/><circle cx="555.54" cy="582.96" r="1.9" fill="#2e4ea3"/><circle cx="556.89" cy="580.82" r="1.9" fill="#2e4ea3"/><circle cx="558.38" cy="579.24" r="1.9" fill="#2e4ea3"/><circle cx="559.76" cy="579.68" r="1.9" fill="#2e4ea3"/><circle cx="561.35" cy="578.36" r="1.9" fill="#2e4ea3"/><circle cx="563.32" cy="578.22" r="1.9" fill="#2e4ea3"/><circle cx="565.03" cy="576.88" r="1.9" fill="#2e4ea3"/><circle cx="566.59" cy="575.31" r="1.9" fill="#2e4ea3"/><circle cx="568.42" cy="573.7" r="1.9" fill="#2e4ea3"/><circle cx="570.48" cy="572.29" r="1.9" fill="#2e4ea3"/><circle cx="572.65" cy="568.61" r="1.9" fill="#2e4ea3"/><circle cx="574.85" cy="571.84" r="1.9" fill="#2e4ea3"/><circle cx="577.08" cy="569.87" r="1.9" fill="#2e4ea3"/><circle cx="579.51" cy="568.15" r="1.9" fill="#2e4ea3"/><circle cx="581.63" cy="564.46" r="1.9" fill="#2e4ea3"/><circle cx="584.01" cy="564.79" r="1.9" fill="#2e4ea3"/><circle cx="586.16" cy="565.78" r="1.9" fill="#2e4ea3"/><circle cx="588.15" cy="565.99" r="1.9" fill="#2e4ea3"/><circle cx="590.44" cy="559.73" r="1.9" fill="#2e4ea3"/><circle cx="592.75" cy="561.88" r="1.9" fill="#2e4ea3"/><circle cx="594.89" cy="555.63" r="1.9" fill="#2e4ea3"/><circle cx="596.92" cy="554.88" r="1.9" fill="#2e4ea3"/><circle cx="599.17" cy="556.24" r="1.9" fill="#2e4ea3"/><circle cx="601.34" cy="554.08" r="1.9" fill="#2e4ea3"/><circle cx="603.75" cy="553.77" r="1.9" fill="#2e4ea3"/><circle cx="605.7" cy="554.22" r="1.9" fill="#2e4ea3"/><circle cx="608.1" cy="551.91" r="1.9" fill="#2e4ea3"/><circle cx="610.22" cy="552.36" r="1.9" fill="#2e4ea3"/><circle cx="612.43" cy="553.02" r="1.9" fill="#2e4ea3"/><circle cx="606.82" cy="555.05" r="1.9" fill="#2e4ea3"/><circle cx="610.61" cy="552.25" r="1.9" fill="#2e4ea3"/><circle cx="613.29" cy="551.37" r="1.9" fill="#2e4ea3"/><circle cx="617.07" cy="552.55" r="1.9" fill="#2e4ea3"/><circle cx="622.9" cy="544.46" r="1.9" fill="#2e4ea3"/><circle cx="626.06" cy="549.46" r="1.9" fill="#2e4ea3"/><circle cx="629.84" cy="546.67" r="1.9" fill="#2e4ea3"/><circle cx="632.52" cy="544.91" r="1.9" fill="#2e4ea3"/><circle cx="634.41" cy="548.43" r="1.9" fill="#2e4ea3"/><circle cx="635.67" cy="539.47" r="1.9" fill="#2e4ea3"/><circle cx="640.88" cy="537.11" r="1.9" fill="#2e4ea3"/><circle cx="643.56" cy="536.67" r="1.9" fill="#2e4ea3"/><circle cx="646.39" cy="534.32" r="1.9" fill="#2e4ea3"/><circle cx="649.07" cy="535.64" r="1.9" fill="#2e4ea3"/><circle cx="655.54" cy="536.09" r="1.9" fill="#2e4ea3"/><circle cx="656.48" cy="535.64" r="1.9" fill="#2e4ea3"/><circle cx="659.16" cy="531.09" r="1.9" fill="#2e4ea3"/><circle cx="660.9" cy="521.09" r="1.9" fill="#2e4ea3"/><circle cx="662.79" cy="518.3" r="1.9" fill="#2e4ea3"/><circle cx="663.73" cy="526.53" r="1.9" fill="#2e4ea3"/><circle cx="670.2" cy="512.86" r="1.9" fill="#2e4ea3"/><circle cx="673.19" cy="515.21" r="1.9" fill="#2e4ea3"/><circle cx="671.77" cy="517.42" r="1.9" fill="#2e4ea3"/><circle cx="675.09" cy="498.01" r="1.9" fill="#2e4ea3"/><circle cx="677.92" cy="490.66" r="1.9" fill="#2e4ea3"/><circle cx="608.24" cy="553.43" r="1.9" fill="#2e4ea3"/><circle cx="612.81" cy="551.52" r="1.9" fill="#2e4ea3"/><circle cx="521.28" cy="605.14" r="1.9" fill="#f7a21f"/><circle cx="521.46" cy="605.27" r="1.9" fill="#f7a21f"/><circle cx="522.43" cy="604.07" r="1.9" fill="#f7a21f"/><circle cx="522.86" cy="604.34" r="1.9" fill="#f7a21f"/><circle cx="523.52" cy="603.67" r="1.9" fill="#f7a21f"/><circle cx="523.86" cy="603.51" r="1.9" fill="#f7a21f"/><circle cx="524.63" cy="603.11" r="1.9" fill="#f7a21f"/><circle cx="525" cy="602.21" r="1.9" fill="#f7a21f"/><circle cx="525.91" cy="601.38" r="1.9" fill="#f7a21f"/><circle cx="526.22" cy="601.88" r="1.9" fill="#f7a21f"/><circle cx="527.17" cy="601.02" r="1.9" fill="#f7a21f"/><circle cx="527.57" cy="600.09" r="1.9" fill="#f7a21f"/><circle cx="528.18" cy="598.9" r="1.9" fill="#f7a21f"/><circle cx="528.79" cy="598.52" r="1.9" fill="#f7a21f"/><circle cx="529.53" cy="597.8" r="1.9" fill="#f7a21f"/><circle cx="530.1" cy="598.33" r="1.9" fill="#f7a21f"/><circle cx="530.97" cy="597.06" r="1.9" fill="#f7a21f"/><circle cx="531.67" cy="597.26" r="1.9" fill="#f7a21f"/><circle cx="531.9" cy="596.64" r="1.9" fill="#f7a21f"/><circle cx="533.01" cy="596.18" r="1.9" fill="#f7a21f"/><circle cx="533.58" cy="596.1" r="1.9" fill="#f7a21f"/><circle cx="534.17" cy="596.04" r="1.9" fill="#f7a21f"/><circle cx="535.06" cy="595.14" r="1.9" fill="#f7a21f"/><circle cx="535.36" cy="594.95" r="1.9" fill="#f7a21f"/><circle cx="536.27" cy="594.48" r="1.9" fill="#f7a21f"/><circle cx="536.95" cy="595.21" r="1.9" fill="#f7a21f"/><circle cx="537.73" cy="593.75" r="1.9" fill="#f7a21f"/><circle cx="538.39" cy="592.8" r="1.9" fill="#f7a21f"/><circle cx="539.07" cy="594.24" r="1.9" fill="#f7a21f"/><circle cx="539.85" cy="592.52" r="1.9" fill="#f7a21f"/><circle cx="540.88" cy="593.63" r="1.9" fill="#f7a21f"/><circle cx="541.25" cy="592.45" r="1.9" fill="#f7a21f"/><circle cx="542.42" cy="592.55" r="1.9" fill="#f7a21f"/><circle cx="542.82" cy="593.17" r="1.9" fill="#f7a21f"/><circle cx="543.78" cy="593.08" r="1.9" fill="#f7a21f"/><circle cx="544.78" cy="590.86" r="1.9" fill="#f7a21f"/><circle cx="545.49" cy="591.21" r="1.9" fill="#f7a21f"/><circle cx="546.37" cy="590.4" r="1.9" fill="#f7a21f"/><circle cx="547.21" cy="589.57" r="1.9" fill="#f7a21f"/><circle cx="547.81" cy="588.74" r="1.9" fill="#f7a21f"/><circle cx="548.88" cy="588.59" r="1.9" fill="#f7a21f"/><circle cx="549.65" cy="588.17" r="1.9" fill="#f7a21f"/><circle cx="550.37" cy="589.03" r="1.9" fill="#f7a21f"/><circle cx="551.24" cy="587.08" r="1.9" fill="#f7a21f"/><circle cx="552.15" cy="586.96" r="1.9" fill="#f7a21f"/><circle cx="552.73" cy="586.16" r="1.9" fill="#f7a21f"/><circle cx="553.82" cy="586.33" r="1.9" fill="#f7a21f"/><circle cx="554.8" cy="585.79" r="1.9" fill="#f7a21f"/><circle cx="555.95" cy="584.71" r="1.9" fill="#f7a21f"/><circle cx="556.86" cy="584.76" r="1.9" fill="#f7a21f"/><circle cx="558.21" cy="582.06" r="1.9" fill="#f7a21f"/><circle cx="559.39" cy="583.61" r="1.9" fill="#f7a21f"/><circle cx="560.18" cy="581.12" r="1.9" fill="#f7a21f"/><circle cx="561.61" cy="580.44" r="1.9" fill="#f7a21f"/><circle cx="562.97" cy="578.23" r="1.9" fill="#f7a21f"/><circle cx="564.55" cy="577.42" r="1.9" fill="#f7a21f"/><circle cx="565.66" cy="575.91" r="1.9" fill="#f7a21f"/><circle cx="567.13" cy="577.61" r="1.9" fill="#f7a21f"/><circle cx="568.67" cy="577.41" r="1.9" fill="#f7a21f"/><circle cx="570.28" cy="576.28" r="1.9" fill="#f7a21f"/><circle cx="571.82" cy="572.98" r="1.9" fill="#f7a21f"/><circle cx="573.87" cy="571.08" r="1.9" fill="#f7a21f"/><circle cx="575.31" cy="572.21" r="1.9" fill="#f7a21f"/><circle cx="577.16" cy="574.47" r="1.9" fill="#f7a21f"/><circle cx="579.15" cy="571.41" r="1.9" fill="#f7a21f"/><circle cx="580.63" cy="569.98" r="1.9" fill="#f7a21f"/><circle cx="582.55" cy="570.86" r="1.9" fill="#f7a21f"/><circle cx="584.36" cy="568.88" r="1.9" fill="#f7a21f"/><circle cx="585.85" cy="567.57" r="1.9" fill="#f7a21f"/><circle cx="587.77" cy="566.93" r="1.9" fill="#f7a21f"/><circle cx="589.21" cy="567.45" r="1.9" fill="#f7a21f"/><circle cx="591.18" cy="567.23" r="1.9" fill="#f7a21f"/><circle cx="592.88" cy="566.34" r="1.9" fill="#f7a21f"/><circle cx="594.51" cy="563.8" r="1.9" fill="#f7a21f"/><circle cx="596.18" cy="564.7" r="1.9" fill="#f7a21f"/><circle cx="597.86" cy="564.23" r="1.9" fill="#f7a21f"/><circle cx="599.79" cy="565.13" r="1.9" fill="#f7a21f"/><circle cx="601.61" cy="563.83" r="1.9" fill="#f7a21f"/><circle cx="603.38" cy="565.41" r="1.9" fill="#f7a21f"/><circle cx="605.21" cy="559.8" r="1.9" fill="#f7a21f"/><circle cx="606.79" cy="561.13" r="1.9" fill="#f7a21f"/><circle cx="608.27" cy="558.65" r="1.9" fill="#f7a21f"/><circle cx="610.08" cy="558.36" r="1.9" fill="#f7a21f"/><circle cx="612.11" cy="558.48" r="1.9" fill="#f7a21f"/><circle cx="613.74" cy="558.2" r="1.9" fill="#f7a21f"/><circle cx="607.3" cy="559.9" r="1.9" fill="#f7a21f"/><circle cx="609.98" cy="561.22" r="1.9" fill="#f7a21f"/><circle cx="612.81" cy="556.22" r="1.9" fill="#f7a21f"/><circle cx="613.76" cy="560.78" r="1.9" fill="#f7a21f"/><circle cx="605.88" cy="561.37" r="1.9" fill="#f7a21f"/><circle cx="608.71" cy="558.58" r="1.9" fill="#f7a21f"/><circle cx="611.39" cy="555.93" r="1.9" fill="#f7a21f"/><circle cx="615.18" cy="560.49" r="1.9" fill="#f7a21f"/><circle cx="616.91" cy="555.93" r="1.9" fill="#f7a21f"/><circle cx="618.8" cy="549.46" r="1.9" fill="#f7a21f"/><circle cx="621.48" cy="550.34" r="1.9" fill="#f7a21f"/><circle cx="623.38" cy="558.58" r="1.9" fill="#f7a21f"/><circle cx="626.06" cy="553.14" r="1.9" fill="#f7a21f"/><circle cx="629.37" cy="544.46" r="1.9" fill="#f7a21f"/><circle cx="630.79" cy="551.37" r="1.9" fill="#f7a21f"/><circle cx="633.47" cy="555.05" r="1.9" fill="#f7a21f"/><circle cx="635.36" cy="552.25" r="1.9" fill="#f7a21f"/><circle cx="638.04" cy="541.67" r="1.9" fill="#f7a21f"/><circle cx="637.09" cy="544.91" r="1.9" fill="#f7a21f"/><circle cx="640.88" cy="544.91" r="1.9" fill="#f7a21f"/><circle cx="644.97" cy="547.26" r="1.9" fill="#f7a21f"/><circle cx="643.56" cy="540.35" r="1.9" fill="#f7a21f"/><circle cx="647.18" cy="537.11" r="1.9" fill="#f7a21f"/><circle cx="650.96" cy="530.65" r="1.9" fill="#f7a21f"/><circle cx="652.7" cy="536.67" r="1.9" fill="#f7a21f"/><circle cx="654.59" cy="539.47" r="1.9" fill="#f7a21f"/><circle cx="656.48" cy="532.85" r="1.9" fill="#f7a21f"/><circle cx="659.16" cy="533.88" r="1.9" fill="#f7a21f"/><circle cx="660.9" cy="527.85" r="1.9" fill="#f7a21f"/><circle cx="663.73" cy="534.32" r="1.9" fill="#f7a21f"/><circle cx="666.57" cy="522.27" r="1.9" fill="#f7a21f"/><circle cx="669.41" cy="525.06" r="1.9" fill="#f7a21f"/><circle cx="671.77" cy="518.89" r="1.9" fill="#f7a21f"/><circle cx="673.19" cy="511.39" r="1.9" fill="#f7a21f"/><circle cx="674.93" cy="507.13" r="1.9" fill="#f7a21f"/><circle cx="678.24" cy="493.01" r="1.9" fill="#f7a21f"/><circle cx="520.52" cy="614.24" r="1.9" fill="#a47cc0"/><circle cx="521.12" cy="612.23" r="1.9" fill="#a47cc0"/><circle cx="521.67" cy="610.87" r="1.9" fill="#a47cc0"/><circle cx="522.35" cy="609.36" r="1.9" fill="#a47cc0"/><circle cx="522.63" cy="607.97" r="1.9" fill="#a47cc0"/><circle cx="523.27" cy="606.83" r="1.9" fill="#a47cc0"/><circle cx="524.15" cy="606.77" r="1.9" fill="#a47cc0"/><circle cx="524.84" cy="605.12" r="1.9" fill="#a47cc0"/><circle cx="525.11" cy="604.51" r="1.9" fill="#a47cc0"/><circle cx="525.91" cy="604.92" r="1.9" fill="#a47cc0"/><circle cx="526.22" cy="604.32" r="1.9" fill="#a47cc0"/><circle cx="526.97" cy="602.9" r="1.9" fill="#a47cc0"/><circle cx="527.56" cy="602.57" r="1.9" fill="#a47cc0"/><circle cx="528.45" cy="601.47" r="1.9" fill="#a47cc0"/><circle cx="528.88" cy="601.76" r="1.9" fill="#a47cc0"/><circle cx="529.81" cy="600.19" r="1.9" fill="#a47cc0"/><circle cx="530.15" cy="598.58" r="1.9" fill="#a47cc0"/><circle cx="531.06" cy="598.93" r="1.9" fill="#a47cc0"/><circle cx="531.7" cy="599.12" r="1.9" fill="#a47cc0"/><circle cx="532.07" cy="598.26" r="1.9" fill="#a47cc0"/><circle cx="532.82" cy="597.84" r="1.9" fill="#a47cc0"/><circle cx="533.69" cy="597.05" r="1.9" fill="#a47cc0"/><circle cx="534.39" cy="595.51" r="1.9" fill="#a47cc0"/><circle cx="534.98" cy="595.88" r="1.9" fill="#a47cc0"/><circle cx="535.88" cy="596.37" r="1.9" fill="#a47cc0"/><circle cx="536.37" cy="594.66" r="1.9" fill="#a47cc0"/><circle cx="537.17" cy="594.35" r="1.9" fill="#a47cc0"/><circle cx="537.67" cy="593.64" r="1.9" fill="#a47cc0"/><circle cx="538.44" cy="593.51" r="1.9" fill="#a47cc0"/><circle cx="539.33" cy="592.12" r="1.9" fill="#a47cc0"/><circle cx="540.13" cy="592.26" r="1.9" fill="#a47cc0"/><circle cx="540.82" cy="590.9" r="1.9" fill="#a47cc0"/><circle cx="541.79" cy="590.4" r="1.9" fill="#a47cc0"/><circle cx="542.49" cy="590.88" r="1.9" fill="#a47cc0"/><circle cx="542.99" cy="589.15" r="1.9" fill="#a47cc0"/><circle cx="543.72" cy="588.59" r="1.9" fill="#a47cc0"/><circle cx="544.46" cy="589.18" r="1.9" fill="#a47cc0"/><circle cx="545.31" cy="588.57" r="1.9" fill="#a47cc0"/><circle cx="546.39" cy="585.73" r="1.9" fill="#a47cc0"/><circle cx="546.96" cy="586.5" r="1.9" fill="#a47cc0"/><circle cx="548.01" cy="585.35" r="1.9" fill="#a47cc0"/><circle cx="548.55" cy="584.15" r="1.9" fill="#a47cc0"/><circle cx="549.63" cy="583.59" r="1.9" fill="#a47cc0"/><circle cx="550.31" cy="583.45" r="1.9" fill="#a47cc0"/><circle cx="551.28" cy="581.89" r="1.9" fill="#a47cc0"/><circle cx="552.31" cy="581.87" r="1.9" fill="#a47cc0"/><circle cx="553.09" cy="581.25" r="1.9" fill="#a47cc0"/><circle cx="553.92" cy="580.79" r="1.9" fill="#a47cc0"/><circle cx="555.15" cy="579.31" r="1.9" fill="#a47cc0"/><circle cx="555.94" cy="580.04" r="1.9" fill="#a47cc0"/><circle cx="557.1" cy="579.22" r="1.9" fill="#a47cc0"/><circle cx="558.21" cy="577.72" r="1.9" fill="#a47cc0"/><circle cx="559.58" cy="576.62" r="1.9" fill="#a47cc0"/><circle cx="561.07" cy="576.7" r="1.9" fill="#a47cc0"/><circle cx="562.42" cy="575.77" r="1.9" fill="#a47cc0"/><circle cx="563.5" cy="573.69" r="1.9" fill="#a47cc0"/><circle cx="565.21" cy="571.85" r="1.9" fill="#a47cc0"/><circle cx="566.55" cy="573.98" r="1.9" fill="#a47cc0"/><circle cx="568.29" cy="569.49" r="1.9" fill="#a47cc0"/><circle cx="569.95" cy="569.1" r="1.9" fill="#a47cc0"/><circle cx="571.67" cy="564.1" r="1.9" fill="#a47cc0"/><circle cx="573.65" cy="565.39" r="1.9" fill="#a47cc0"/><circle cx="575.63" cy="568.63" r="1.9" fill="#a47cc0"/><circle cx="577.56" cy="566.4" r="1.9" fill="#a47cc0"/><circle cx="579.41" cy="565.63" r="1.9" fill="#a47cc0"/><circle cx="581.37" cy="563.46" r="1.9" fill="#a47cc0"/><circle cx="583.28" cy="562.27" r="1.9" fill="#a47cc0"/><circle cx="585.07" cy="561.99" r="1.9" fill="#a47cc0"/><circle cx="587.12" cy="558.13" r="1.9" fill="#a47cc0"/><circle cx="588.79" cy="555.99" r="1.9" fill="#a47cc0"/><circle cx="590.61" cy="557.79" r="1.9" fill="#a47cc0"/><circle cx="592.6" cy="554.88" r="1.9" fill="#a47cc0"/><circle cx="594.42" cy="554.06" r="1.9" fill="#a47cc0"/><circle cx="596.5" cy="550.64" r="1.9" fill="#a47cc0"/><circle cx="598.2" cy="553.46" r="1.9" fill="#a47cc0"/><circle cx="600.01" cy="549.17" r="1.9" fill="#a47cc0"/><circle cx="602.3" cy="548.59" r="1.9" fill="#a47cc0"/><circle cx="603.84" cy="550.33" r="1.9" fill="#a47cc0"/><circle cx="606.11" cy="550.56" r="1.9" fill="#a47cc0"/><circle cx="607.79" cy="549.53" r="1.9" fill="#a47cc0"/><circle cx="609.84" cy="544.77" r="1.9" fill="#a47cc0"/><circle cx="611.64" cy="547.43" r="1.9" fill="#a47cc0"/><circle cx="613.58" cy="543.59" r="1.9" fill="#a47cc0"/><circle cx="588.54" cy="555.34" r="1.9" fill="#a47cc0"/><circle cx="593.11" cy="553.43" r="1.9" fill="#a47cc0"/><circle cx="594.37" cy="549.76" r="1.9" fill="#a47cc0"/><circle cx="600.04" cy="550.2" r="1.9" fill="#a47cc0"/><circle cx="602.72" cy="551.52" r="1.9" fill="#a47cc0"/><circle cx="605.56" cy="554.46" r="1.9" fill="#a47cc0"/><circle cx="607.3" cy="547.85" r="1.9" fill="#a47cc0"/><circle cx="606.82" cy="547.55" r="1.9" fill="#a47cc0"/><circle cx="610.61" cy="543.88" r="1.9" fill="#a47cc0"/><circle cx="613.29" cy="541.23" r="1.9" fill="#a47cc0"/><circle cx="616.6" cy="546.23" r="1.9" fill="#a47cc0"/><circle cx="615.18" cy="552.25" r="1.9" fill="#a47cc0"/><circle cx="619.75" cy="537.56" r="1.9" fill="#a47cc0"/><circle cx="618.8" cy="541.67" r="1.9" fill="#a47cc0"/><circle cx="623.38" cy="540.35" r="1.9" fill="#a47cc0"/><circle cx="626.06" cy="534.91" r="1.9" fill="#a47cc0"/><circle cx="629.37" cy="526.09" r="1.9" fill="#a47cc0"/><circle cx="630.79" cy="536.67" r="1.9" fill="#a47cc0"/><circle cx="633.47" cy="535.2" r="1.9" fill="#a47cc0"/><circle cx="636.3" cy="531.97" r="1.9" fill="#a47cc0"/><circle cx="638.04" cy="532.85" r="1.9" fill="#a47cc0"/><circle cx="640.88" cy="527.85" r="1.9" fill="#a47cc0"/><circle cx="643.56" cy="532.56" r="1.9" fill="#a47cc0"/><circle cx="645.45" cy="526.53" r="1.9" fill="#a47cc0"/><circle cx="648.6" cy="521.97" r="1.9" fill="#a47cc0"/><circle cx="651.28" cy="516.39" r="1.9" fill="#a47cc0"/><circle cx="652.7" cy="523.88" r="1.9" fill="#a47cc0"/><circle cx="655.54" cy="521.97" r="1.9" fill="#a47cc0"/><circle cx="654.59" cy="514.62" r="1.9" fill="#a47cc0"/><circle cx="657.27" cy="511.39" r="1.9" fill="#a47cc0"/><circle cx="660.11" cy="517.27" r="1.9" fill="#a47cc0"/><circle cx="662.79" cy="514.62" r="1.9" fill="#a47cc0"/><circle cx="664.05" cy="515.95" r="1.9" fill="#a47cc0"/><circle cx="665.63" cy="510.51" r="1.9" fill="#a47cc0"/><circle cx="667.2" cy="505.8" r="1.9" fill="#a47cc0"/><circle cx="668.62" cy="507.27" r="1.9" fill="#a47cc0"/><circle cx="670.2" cy="496.1" r="1.9" fill="#a47cc0"/><circle cx="671.77" cy="498.01" r="1.9" fill="#a47cc0"/><circle cx="673.19" cy="498.31" r="1.9" fill="#a47cc0"/><circle cx="674.93" cy="493.01" r="1.9" fill="#a47cc0"/><circle cx="678.24" cy="482.72" r="1.9" fill="#a47cc0"/>
<line x1="513.02" y1="622.52" x2="683.91" y2="463.17" stroke="#e8242c" stroke-width="1.15" stroke-dasharray="3.5 3.3"/>
<circle cx="524.15" cy="477.2" r="2.1" fill="#2e4ea3"/>
<text x="530.55" y="480.7" font-size="8.5" fill="#2b2b2b">SuSiE</text>
<circle cx="524.15" cy="491.3" r="2.1" fill="#f7a21f"/>
<text x="530.55" y="494.8" font-size="8.5" fill="#2b2b2b">FINEMAP</text>
<circle cx="524.15" cy="505.4" r="2.1" fill="#a47cc0"/>
<text x="530.55" y="508.9" font-size="8.5" fill="#2b2b2b">Polyfun + SuSiE</text>
</svg>
</body></html>
